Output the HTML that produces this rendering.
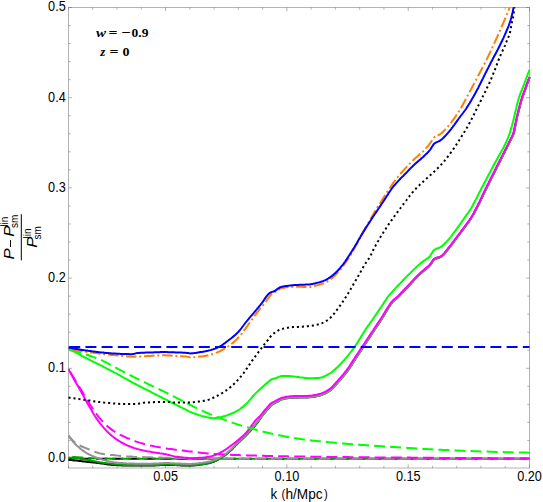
<!DOCTYPE html>
<html><head><meta charset="utf-8"><title>plot</title>
<style>html,body{margin:0;padding:0;background:#fff;}body{width:543px;height:502px;overflow:hidden;position:relative;font-family:"Liberation Sans",sans-serif;}</style></head>
<body>
<svg width="543" height="502" viewBox="0 0 543 502" style="position:absolute;left:0;top:0">
<defs><clipPath id="c"><rect x="67.8" y="7.2" width="463" height="461.3"/></clipPath></defs>
<rect width="543" height="502" fill="#fff"/>
<g stroke="#666" stroke-width="0.5" fill="none">
<path d="M68.5,7.25 V468.25"/>
<path d="M529.5,7.25 V468.25"/>
<path d="M68.25,7.5 H529.75"/>
<path d="M68.25,468 H529.75"/>
<path d="M68.5,458.50 h3.6 M529.5,458.50 h-3.6 M68.5,440.46 h2.2 M529.5,440.46 h-2.2 M68.5,422.42 h2.2 M529.5,422.42 h-2.2 M68.5,404.38 h2.2 M529.5,404.38 h-2.2 M68.5,386.34 h2.2 M529.5,386.34 h-2.2 M68.5,368.30 h3.6 M529.5,368.30 h-3.6 M68.5,350.26 h2.2 M529.5,350.26 h-2.2 M68.5,332.22 h2.2 M529.5,332.22 h-2.2 M68.5,314.18 h2.2 M529.5,314.18 h-2.2 M68.5,296.14 h2.2 M529.5,296.14 h-2.2 M68.5,278.10 h3.6 M529.5,278.10 h-3.6 M68.5,260.06 h2.2 M529.5,260.06 h-2.2 M68.5,242.02 h2.2 M529.5,242.02 h-2.2 M68.5,223.98 h2.2 M529.5,223.98 h-2.2 M68.5,205.94 h2.2 M529.5,205.94 h-2.2 M68.5,187.90 h3.6 M529.5,187.90 h-3.6 M68.5,169.86 h2.2 M529.5,169.86 h-2.2 M68.5,151.82 h2.2 M529.5,151.82 h-2.2 M68.5,133.78 h2.2 M529.5,133.78 h-2.2 M68.5,115.74 h2.2 M529.5,115.74 h-2.2 M68.5,97.70 h3.6 M529.5,97.70 h-3.6 M68.5,79.66 h2.2 M529.5,79.66 h-2.2 M68.5,61.62 h2.2 M529.5,61.62 h-2.2 M68.5,43.58 h2.2 M529.5,43.58 h-2.2 M68.5,25.54 h2.2 M529.5,25.54 h-2.2 M68.5,7.50 h3.6 M529.5,7.50 h-3.6 M68.50,468 v-2.2 M68.50,7.5 v2.2 M92.76,468 v-2.2 M92.76,7.5 v2.2 M117.03,468 v-2.2 M117.03,7.5 v2.2 M141.29,468 v-2.2 M141.29,7.5 v2.2 M165.55,468 v-3.6 M165.55,7.5 v3.6 M189.81,468 v-2.2 M189.81,7.5 v2.2 M214.08,468 v-2.2 M214.08,7.5 v2.2 M238.34,468 v-2.2 M238.34,7.5 v2.2 M262.60,468 v-2.2 M262.60,7.5 v2.2 M286.87,468 v-3.6 M286.87,7.5 v3.6 M311.13,468 v-2.2 M311.13,7.5 v2.2 M335.39,468 v-2.2 M335.39,7.5 v2.2 M359.66,468 v-2.2 M359.66,7.5 v2.2 M383.92,468 v-2.2 M383.92,7.5 v2.2 M408.18,468 v-3.6 M408.18,7.5 v3.6 M432.44,468 v-2.2 M432.44,7.5 v2.2 M456.71,468 v-2.2 M456.71,7.5 v2.2 M480.97,468 v-2.2 M480.97,7.5 v2.2 M505.23,468 v-2.2 M505.23,7.5 v2.2 M529.50,468 v-3.6 M529.50,7.5 v3.6"/>
</g>
<g clip-path="url(#c)" fill="none" stroke-linejoin="round">
<path d="M68.5,459.8 L69.9,459.9 L71.2,460.1 L72.6,460.2 L74.0,460.4 L75.4,460.5 L76.7,460.6 L78.1,460.8 L79.5,460.9 L80.8,461.1 L82.2,461.2 L83.6,461.4 L85.0,461.5 L86.3,461.7 L87.7,461.9 L89.1,462.0 L90.4,462.2 L91.8,462.3 L93.2,462.5 L94.5,462.6 L95.9,462.8 L97.3,463.0 L98.6,463.1 L100.0,463.3 L101.4,463.5 L102.7,463.6 L104.1,463.8 L105.5,464.0 L106.8,464.2 L108.2,464.4 L109.6,464.6 L111.0,464.7 L112.3,464.9 L113.7,465.0 L115.1,465.1 L116.4,465.1 L117.8,465.2 L119.2,465.3 L120.6,465.3 L122.0,465.4 L123.3,465.4 L124.7,465.5 L126.1,465.5 L127.5,465.6 L128.8,465.6 L130.2,465.6 L131.6,465.6 L133.0,465.6 L134.4,465.6 L135.7,465.6 L137.1,465.6 L138.5,465.6 L139.9,465.6 L141.3,465.6 L142.6,465.6 L144.0,465.6 L145.4,465.6 L146.8,465.6 L148.1,465.6 L149.5,465.6 L150.9,465.6 L152.3,465.5 L153.7,465.5 L155.0,465.4 L156.4,465.3 L157.8,465.2 L159.2,465.2 L160.5,465.1 L161.9,465.0 L163.3,465.0 L164.7,464.9 L166.1,464.9 L167.4,464.9 L168.8,464.9 L170.2,464.9 L171.6,465.0 L172.9,465.0 L174.3,465.1 L175.7,465.1 L177.1,465.2 L178.5,465.3 L179.8,465.3 L181.2,465.4 L182.6,465.5 L184.0,465.5 L185.3,465.6 L186.7,465.6 L188.1,465.6 L189.5,465.6 L190.9,465.6 L192.2,465.5 L193.6,465.4 L195.0,465.3 L196.4,465.2 L197.7,465.0 L199.1,464.8 L200.5,464.6 L201.8,464.5 L203.2,464.3 L204.6,464.1 L205.9,463.8 L207.3,463.5 L208.6,463.2 L210.0,462.9 L211.3,462.5 L212.6,462.1 L213.9,461.6 L215.1,461.1 L216.4,460.5 L217.6,459.9 L218.8,459.2 L220.0,458.5 L221.2,457.8 L222.4,457.0 L223.5,456.3 L224.6,455.5 L225.8,454.6 L226.8,453.8 L227.9,452.9 L229.0,452.0 L230.0,451.1 L231.0,450.2 L232.0,449.2 L233.0,448.2 L233.9,447.2 L234.9,446.2 L235.8,445.2 L236.8,444.2 L237.8,443.3 L238.8,442.3 L239.8,441.4 L240.8,440.4 L241.8,439.5 L242.8,438.5 L243.8,437.6 L244.8,436.6 L245.8,435.7 L246.7,434.7 L247.7,433.7 L248.6,432.7 L249.5,431.7 L250.5,430.7 L251.4,429.6 L252.3,428.6 L253.2,427.6 L254.1,426.5 L255.0,425.5 L255.9,424.4 L256.8,423.4 L257.7,422.3 L261.7,416.2 L262.5,415.3 L263.2,414.3 L263.9,413.4 L264.7,412.5 L265.4,411.6 L266.2,410.7 L266.9,409.9 L267.7,409.0 L268.5,408.1 L269.3,407.2 L270.0,406.3 L270.8,405.4 L271.5,404.7 L272.2,404.1 L273.1,403.6 L274.1,403.1 L275.2,402.7 L276.3,402.1 L277.4,401.5 L278.5,400.9 L279.5,400.3 L280.5,399.8 L281.4,399.3 L282.4,399.0 L283.4,398.7 L284.5,398.5 L285.6,398.3 L286.7,398.1 L287.9,397.9 L289.0,397.8 L290.2,397.7 L291.3,397.6 L292.5,397.5 L293.6,397.5 L294.8,397.4 L296.0,397.4 L297.1,397.4 L298.3,397.4 L299.5,397.3 L300.7,397.3 L301.8,397.3 L303.0,397.3 L304.2,397.3 L305.4,397.2 L306.5,397.2 L307.7,397.2 L308.9,397.1 L310.1,397.1 L311.3,397.0 L312.5,396.8 L313.8,396.6 L315.0,396.4 L316.1,396.2 L317.3,395.9 L318.5,395.6 L319.6,395.3 L320.8,395.0 L321.9,394.6 L323.1,394.1 L324.2,393.6 L325.4,393.1 L326.4,392.5 L327.5,391.9 L328.5,391.3 L329.5,390.6 L330.5,389.9 L331.4,389.1 L332.3,388.3 L333.2,387.5 L334.0,386.6 L334.9,385.7 L335.7,384.8 L336.4,383.9 L337.2,383.0 L338.0,382.1 L338.8,381.2 L339.6,380.3 L340.3,379.4 L341.1,378.6 L341.9,377.7 L342.7,376.8 L343.4,375.8 L344.2,374.9 L344.9,374.0 L345.7,373.1 L346.4,372.1 L347.1,371.2 L347.8,370.3 L348.5,369.3 L349.2,368.3 L349.9,367.3 L350.5,366.4 L351.2,365.4 L351.8,364.4 L352.4,363.4 L353.0,362.4 L353.7,361.4 L354.3,360.4 L354.9,359.4 L355.6,358.4 L356.2,357.4 L356.8,356.4 L357.5,355.5 L358.1,354.5 L358.8,353.5 L359.4,352.5 L360.1,351.5 L360.7,350.6 L361.4,349.6 L362.0,348.6 L362.6,347.6 L363.3,346.6 L363.9,345.7 L364.6,344.7 L365.2,343.7 L365.9,342.7 L366.5,341.7 L367.2,340.8 L367.8,339.8 L368.4,338.8 L369.1,337.8 L369.7,336.8 L370.4,335.8 L371.0,334.9 L371.7,333.9 L372.3,332.9 L372.9,331.9 L373.6,330.9 L374.2,330.0 L374.9,329.0 L375.5,328.0 L376.2,327.0 L376.8,326.0 L377.5,325.1 L378.1,324.1 L378.8,323.1 L379.4,322.1 L380.1,321.1 L380.7,320.2 L381.4,319.2 L382.0,318.2 L382.6,317.2 L383.3,316.2 L383.9,315.2 L384.5,314.2 L385.1,313.1 L385.7,312.1 L386.3,311.1 L386.9,310.1 L387.5,309.0 L388.1,308.0 L388.8,307.0 L389.4,306.1 L390.0,305.1 L390.7,304.2 L391.4,303.3 L392.1,302.4 L392.8,301.5 L393.6,300.7 L394.4,300.0 L395.3,299.2 L396.2,298.5 L397.1,297.7 L398.0,296.9 L398.9,296.1 L399.7,295.2 L400.5,294.4 L401.3,293.5 L402.1,292.6 L402.9,291.8 L403.7,290.9 L404.5,290.1 L405.3,289.2 L406.2,288.4 L407.0,287.6 L407.8,286.7 L408.6,285.9 L409.4,285.0 L410.2,284.2 L411.0,283.3 L411.8,282.4 L412.6,281.5 L413.4,280.6 L414.1,279.8 L415.0,278.9 L415.8,278.1 L416.6,277.3 L417.4,276.5 L418.3,275.6 L419.1,274.8 L420.0,274.0 L420.8,273.2 L421.7,272.4 L422.5,271.6 L423.4,270.8 L424.3,270.1 L425.2,269.4 L426.1,268.6 L427.0,267.9 L428.0,267.1 L428.8,266.3 L429.7,265.5 L430.4,264.5 L431.2,263.5 L431.8,262.4 L432.5,261.4 L433.2,260.5 L433.9,259.7 L434.7,259.0 L435.6,258.6 L436.6,258.2 L437.8,257.8 L439.0,257.5 L440.2,257.0 L441.2,256.5 L442.2,255.9 L443.0,255.1 L443.9,254.3 L444.7,253.4 L445.4,252.4 L446.2,251.4 L446.9,250.5 L447.6,249.5 L448.3,248.5 L449.1,247.6 L449.8,246.7 L450.6,245.8 L451.3,244.9 L452.0,243.9 L452.7,243.0 L453.4,242.1 L454.1,241.1 L454.8,240.2 L455.5,239.2 L456.2,238.3 L456.9,237.4 L457.6,236.4 L458.3,235.5 L459.1,234.5 L459.8,233.6 L460.5,232.7 L461.2,231.7 L461.9,230.8 L462.6,229.9 L463.3,228.9 L464.0,228.0 L464.7,227.0 L465.4,226.1 L466.1,225.1 L466.8,224.2 L467.5,223.2 L468.2,222.3 L468.9,221.4 L469.6,220.4 L470.2,219.4 L470.9,218.4 L471.5,217.4 L472.1,216.4 L472.7,215.4 L473.3,214.4 L473.9,213.4 L474.4,212.3 L475.0,211.3 L475.5,210.3 L476.1,209.2 L476.6,208.2 L477.2,207.1 L477.7,206.1 L478.2,205.0 L478.7,204.0 L479.3,202.9 L479.8,201.9 L480.3,200.8 L480.8,199.7 L481.3,198.7 L481.8,197.6 L482.3,196.6 L482.8,195.5 L483.3,194.4 L483.8,193.4 L484.3,192.3 L484.8,191.3 L485.3,190.2 L485.8,189.1 L486.4,188.1 L486.9,187.0 L487.4,186.0 L487.9,184.9 L488.5,183.9 L489.0,182.8 L489.5,181.8 L490.0,180.7 L490.5,179.7 L491.1,178.6 L491.6,177.6 L492.1,176.5 L492.7,175.5 L493.2,174.4 L493.7,173.4 L494.2,172.3 L494.8,171.3 L495.3,170.2 L495.8,169.2 L496.3,168.1 L496.9,167.1 L497.4,166.0 L497.9,165.0 L498.4,163.9 L499.0,162.9 L499.5,161.8 L500.0,160.8 L500.6,159.8 L501.1,158.7 L501.6,157.7 L502.1,156.6 L502.7,155.6 L503.2,154.5 L503.7,153.5 L504.3,152.4 L504.8,151.4 L505.3,150.3 L505.8,149.3 L506.4,148.2 L506.9,147.2 L507.4,146.1 L507.9,145.1 L508.5,144.0 L509.0,143.0 L509.5,141.9 L510.0,140.9 L510.6,139.8 L511.1,138.8 L511.7,137.7 L512.2,136.7 L512.7,135.6 L513.2,134.5 L513.6,133.4 L513.9,132.3 L514.2,131.1 L514.4,130.0 L514.7,128.8 L514.9,127.6 L515.1,126.5 L515.4,125.3 L515.6,124.2 L515.8,123.0 L516.1,121.9 L516.3,120.7 L516.5,119.6 L516.8,118.4 L517.0,117.3 L517.3,116.2 L517.6,115.0 L517.8,113.9 L518.1,112.7 L518.4,111.6 L518.7,110.5 L519.0,109.3 L519.3,108.2 L519.6,107.0 L519.8,105.9 L520.1,104.8 L520.4,103.6 L520.8,102.5 L521.1,101.4 L521.4,100.3 L521.8,99.2 L522.1,98.0 L522.5,96.9 L522.9,95.8 L523.3,94.7 L523.7,93.6 L524.1,92.5 L524.5,91.4 L524.9,90.3 L525.3,89.2 L525.7,88.1 L526.0,87.0 L526.4,85.9 L526.8,84.8 L527.2,83.7 L527.6,82.6 L528.0,81.5 L528.5,80.4 L528.9,79.3 L529.3,78.2 L529.8,77.1" stroke="#000" stroke-width="2"/>
<path d="M68.5,458.8 L529.5,458.8" stroke="#000" stroke-width="2" stroke-dasharray="11 5.1" stroke-dashoffset="4.6"/>
<path d="M68.5,457.6 L69.9,457.7 L71.3,457.8 L72.6,458.0 L74.0,458.1 L75.4,458.2 L76.7,458.4 L78.1,458.6 L79.5,458.7 L80.9,458.9 L82.2,459.1 L83.6,459.3 L85.0,459.5 L86.3,459.7 L87.7,459.9 L89.0,460.1 L90.4,460.3 L91.7,460.6 L93.1,460.9 L94.4,461.2 L95.8,461.5 L97.1,461.8 L98.5,462.0 L99.9,462.3 L101.2,462.5 L102.6,462.7 L103.9,462.9 L105.3,463.1 L106.7,463.3 L108.0,463.5 L109.4,463.6 L110.8,463.8 L112.2,463.9 L113.5,464.0 L114.9,464.2 L116.3,464.3 L117.7,464.4 L119.0,464.5 L120.4,464.7 L121.8,464.8 L123.2,464.9 L124.5,465.0 L125.9,465.1 L127.3,465.2 L128.7,465.2 L130.0,465.3 L131.4,465.3 L132.8,465.3 L134.2,465.3 L135.6,465.3 L136.9,465.3 L138.3,465.3 L139.7,465.3 L141.1,465.3 L142.5,465.3 L143.8,465.3 L145.2,465.3 L146.6,465.3 L148.0,465.3 L149.3,465.3 L150.7,465.3 L152.1,465.2 L153.5,465.2 L154.9,465.1 L156.2,465.0 L157.6,464.9 L159.0,464.9 L160.4,464.8 L161.8,464.7 L163.1,464.7 L164.5,464.6 L165.9,464.6 L167.3,464.6 L168.6,464.6 L170.0,464.6 L171.4,464.7 L172.8,464.7 L174.2,464.8 L175.5,464.9 L176.9,464.9 L178.3,465.0 L179.7,465.1 L181.1,465.2 L182.4,465.2 L183.8,465.3 L185.2,465.3 L186.6,465.4 L187.9,465.4 L189.3,465.4 L190.7,465.4 L192.1,465.3 L193.5,465.2 L194.8,465.1 L196.2,465.0 L197.6,464.8 L199.0,464.6 L200.3,464.5 L201.7,464.3 L203.1,464.1 L204.4,463.9 L205.8,463.7 L207.1,463.4 L208.5,463.1 L209.8,462.7 L211.2,462.3 L212.5,461.9 L213.8,461.5 L215.0,461.0 L216.3,460.4 L217.5,459.8 L218.7,459.1 L220.0,458.4 L221.1,457.7 L222.3,457.0 L223.4,456.2 L224.6,455.4 L225.7,454.6 L226.8,453.7 L227.8,452.9 L228.9,452.0 L229.9,451.1 L230.9,450.1 L231.9,449.2 L232.9,448.2 L233.8,447.2 L234.8,446.2 L235.7,445.2 L236.7,444.2 L237.7,443.2 L238.7,442.3 L239.7,441.3 L240.7,440.4 L241.7,439.4 L242.7,438.5 L243.7,437.5 L244.7,436.6 L245.7,435.6 L246.7,434.6 L247.6,433.6 L248.5,432.6 L249.5,431.6 L250.4,430.6 L251.3,429.6 L252.3,428.5 L253.2,427.5 L254.1,426.5 L255.0,425.4 L255.8,424.3 L256.7,423.3 L257.6,422.2 L261.9,416.4 L262.7,415.4 L263.4,414.5 L264.2,413.6 L264.9,412.7 L265.6,411.8 L266.4,410.9 L267.1,410.1 L267.9,409.2 L268.7,408.3 L269.5,407.4 L270.3,406.5 L271.0,405.6 L271.7,404.9 L272.4,404.4 L273.3,403.9 L274.3,403.4 L275.3,402.9 L276.4,402.4 L277.6,401.8 L278.6,401.2 L279.6,400.6 L280.6,400.0 L281.6,399.6 L282.5,399.2 L283.5,399.0 L284.5,398.8 L285.7,398.5 L286.8,398.4 L287.9,398.2 L289.1,398.0 L290.2,397.9 L291.3,397.8 L292.5,397.8 L293.6,397.8 L294.8,397.7 L296.0,397.7 L297.1,397.7 L298.3,397.6 L299.5,397.6 L300.7,397.6 L301.8,397.6 L303.0,397.5 L304.2,397.5 L305.4,397.5 L306.6,397.5 L307.7,397.4 L308.9,397.4 L310.1,397.3 L311.4,397.2 L312.6,397.1 L313.8,396.9 L315.0,396.7 L316.2,396.4 L317.4,396.1 L318.5,395.9 L319.7,395.6 L320.8,395.2 L322.0,394.8 L323.2,394.4 L324.3,393.9 L325.5,393.3 L326.6,392.7 L327.6,392.1 L328.7,391.5 L329.7,390.8 L330.6,390.1 L331.6,389.3 L332.5,388.5 L333.4,387.6 L334.2,386.8 L335.0,385.9 L335.8,384.9 L336.6,384.0 L337.4,383.1 L338.2,382.2 L339.0,381.4 L339.7,380.5 L340.5,379.6 L341.3,378.7 L342.1,377.8 L342.9,376.9 L343.6,376.0 L344.4,375.1 L345.1,374.2 L345.9,373.2 L346.6,372.3 L347.3,371.3 L348.0,370.4 L348.7,369.4 L349.4,368.5 L350.1,367.5 L350.7,366.5 L351.3,365.5 L352.0,364.5 L352.6,363.5 L353.2,362.5 L353.9,361.5 L354.5,360.5 L355.1,359.5 L355.7,358.5 L356.4,357.6 L357.0,356.6 L357.7,355.6 L358.3,354.6 L359.0,353.6 L359.6,352.7 L360.3,351.7 L360.9,350.7 L361.5,349.7 L362.2,348.7 L362.8,347.8 L363.5,346.8 L364.1,345.8 L364.8,344.8 L365.4,343.8 L366.1,342.8 L366.7,341.9 L367.3,340.9 L368.0,339.9 L368.6,338.9 L369.3,337.9 L369.9,336.9 L370.6,336.0 L371.2,335.0 L371.8,334.0 L372.5,333.0 L373.1,332.0 L373.8,331.1 L374.4,330.1 L375.1,329.1 L375.7,328.1 L376.4,327.1 L377.0,326.2 L377.7,325.2 L378.3,324.2 L378.9,323.2 L379.6,322.2 L380.2,321.3 L380.9,320.3 L381.5,319.3 L382.2,318.3 L382.8,317.3 L383.5,316.3 L384.1,315.3 L384.7,314.3 L385.3,313.3 L385.9,312.2 L386.5,311.2 L387.1,310.2 L387.7,309.2 L388.3,308.1 L388.9,307.2 L389.6,306.2 L390.2,305.2 L390.9,304.3 L391.5,303.4 L392.2,302.5 L392.9,301.7 L393.7,300.9 L394.5,300.1 L395.4,299.4 L396.3,298.6 L397.3,297.9 L398.2,297.1 L399.0,296.2 L399.9,295.4 L400.7,294.5 L401.5,293.6 L402.3,292.8 L403.1,291.9 L403.9,291.1 L404.7,290.2 L405.5,289.4 L406.3,288.5 L407.1,287.7 L407.9,286.8 L408.8,286.0 L409.6,285.1 L410.4,284.3 L411.2,283.4 L412.0,282.5 L412.7,281.6 L413.5,280.8 L414.3,279.9 L415.1,279.1 L415.9,278.2 L416.7,277.4 L417.6,276.6 L418.4,275.8 L419.2,275.0 L420.1,274.1 L420.9,273.3 L421.8,272.5 L422.7,271.8 L423.5,271.0 L424.4,270.2 L425.3,269.5 L426.2,268.8 L427.2,268.0 L428.1,267.2 L429.0,266.4 L429.8,265.6 L430.6,264.6 L431.3,263.6 L432.0,262.5 L432.7,261.5 L433.3,260.6 L434.1,259.8 L434.8,259.2 L435.7,258.7 L436.7,258.3 L437.9,258.0 L439.1,257.6 L440.2,257.2 L441.3,256.7 L442.3,256.0 L443.1,255.3 L444.0,254.4 L444.8,253.5 L445.6,252.5 L446.3,251.5 L447.0,250.6 L447.7,249.6 L448.5,248.6 L449.2,247.7 L449.9,246.8 L450.7,245.9 L451.4,245.0 L452.1,244.0 L452.8,243.1 L453.5,242.2 L454.3,241.2 L455.0,240.3 L455.7,239.3 L456.4,238.4 L457.1,237.5 L457.8,236.5 L458.5,235.6 L459.2,234.6 L459.9,233.7 L460.6,232.8 L461.3,231.8 L462.0,230.9 L462.7,230.0 L463.4,229.0 L464.1,228.1 L464.8,227.1 L465.5,226.2 L466.2,225.2 L466.9,224.3 L467.6,223.3 L468.3,222.4 L469.0,221.4 L469.7,220.5 L470.4,219.5 L471.0,218.5 L471.6,217.5 L472.2,216.5 L472.8,215.5 L473.4,214.5 L474.0,213.4 L474.6,212.4 L475.1,211.4 L475.7,210.3 L476.2,209.3 L476.8,208.2 L477.3,207.2 L477.8,206.1 L478.3,205.1 L478.9,204.0 L479.4,203.0 L479.9,201.9 L480.4,200.9 L480.9,199.8 L481.4,198.7 L481.9,197.7 L482.4,196.6 L482.9,195.6 L483.4,194.5 L483.9,193.4 L484.4,192.4 L484.9,191.3 L485.5,190.3 L486.0,189.2 L486.5,188.2 L487.0,187.1 L487.5,186.1 L488.1,185.0 L488.6,183.9 L489.1,182.9 L489.6,181.8 L490.1,180.8 L490.7,179.7 L491.2,178.7 L491.7,177.6 L492.2,176.6 L492.8,175.5 L493.3,174.5 L493.8,173.4 L494.3,172.4 L494.9,171.4 L495.4,170.3 L495.9,169.3 L496.5,168.2 L497.0,167.2 L497.5,166.1 L498.0,165.1 L498.6,164.0 L499.1,163.0 L499.6,161.9 L500.1,160.9 L500.7,159.8 L501.2,158.8 L501.7,157.7 L502.3,156.7 L502.8,155.6 L503.3,154.6 L503.8,153.5 L504.4,152.5 L504.9,151.4 L505.4,150.4 L506.0,149.3 L506.5,148.3 L507.0,147.2 L507.5,146.2 L508.1,145.1 L508.6,144.1 L509.1,143.0 L509.6,142.0 L510.1,140.9 L510.7,139.9 L511.2,138.8 L511.8,137.8 L512.3,136.7 L512.8,135.6 L513.3,134.5 L513.7,133.4 L514.0,132.3 L514.3,131.1 L514.5,130.0 L514.8,128.8 L515.0,127.7 L515.2,126.5 L515.5,125.4 L515.7,124.2 L515.9,123.1 L516.2,121.9 L516.4,120.8 L516.6,119.6 L516.9,118.5 L517.1,117.3 L517.4,116.2 L517.7,115.0 L518.0,113.9 L518.2,112.8 L518.5,111.6 L518.8,110.5 L519.1,109.4 L519.4,108.2 L519.7,107.1 L520.0,105.9 L520.2,104.8 L520.6,103.7 L520.9,102.6 L521.2,101.4 L521.5,100.3 L521.9,99.2 L522.3,98.1 L522.6,97.0 L523.0,95.9 L523.4,94.8 L523.8,93.7 L524.2,92.5 L524.6,91.4 L525.0,90.3 L525.4,89.2 L525.8,88.1 L526.2,87.0 L526.5,85.9 L526.9,84.8 L527.3,83.7 L527.7,82.6 L528.1,81.5 L528.6,80.4 L529.0,79.3 L529.4,78.2 L529.9,77.2" stroke="#00a000" stroke-width="2"/>
<path d="M68.5,456.5 L70.8,456.7 L73.1,456.9 L75.4,457.1 L77.7,457.2 L80.0,457.4 L82.4,457.6 L84.7,457.7 L87.0,457.9 L89.3,458.0 L91.6,458.2 L93.9,458.3 L96.2,458.3 L98.6,458.4 L100.9,458.5 L103.2,458.5 L105.5,458.6 L107.8,458.6 L110.1,458.7 L112.5,458.7 L114.8,458.7 L117.1,458.7 L119.4,458.7 L121.7,458.7 L124.0,458.7 L126.4,458.8 L128.7,458.8 L131.0,458.8 L133.3,458.8 L135.6,458.8 L137.9,458.8 L140.3,458.8 L142.6,458.8 L144.9,458.8 L147.2,458.8 L149.5,458.8 L151.8,458.8 L154.2,458.8 L156.5,458.8 L158.8,458.8 L161.1,458.8 L163.4,458.8 L165.7,458.8 L168.1,458.8 L170.4,458.8 L172.7,458.8 L175.0,458.8 L177.3,458.8 L179.6,458.8 L182.0,458.8 L184.3,458.8 L186.6,458.8 L188.9,458.8 L191.2,458.8 L193.5,458.8 L195.9,458.8 L198.2,458.8 L200.5,458.8 L202.8,458.8 L205.1,458.8 L207.4,458.8 L209.8,458.8 L212.1,458.8 L214.4,458.8 L216.7,458.8 L219.0,458.8 L221.4,458.8 L223.7,458.8 L226.0,458.8 L228.3,458.8 L230.6,458.8 L232.9,458.8 L235.3,458.8 L237.6,458.8 L239.9,458.8 L242.2,458.8 L244.5,458.8 L246.8,458.8 L249.2,458.8 L251.5,458.8 L253.8,458.8 L256.1,458.8 L258.4,458.8 L260.7,458.8 L263.1,458.8 L265.4,458.8 L267.7,458.8 L270.0,458.8 L272.3,458.8 L274.6,458.8 L277.0,458.8 L279.3,458.8 L281.6,458.8 L283.9,458.8 L286.2,458.8 L288.5,458.8 L290.9,458.8 L293.2,458.8 L295.5,458.8 L297.8,458.8 L300.1,458.8 L302.4,458.8 L304.8,458.8 L307.1,458.8 L309.4,458.8 L311.7,458.8 L314.0,458.8 L316.3,458.8 L318.7,458.8 L321.0,458.8 L323.3,458.8 L325.6,458.8 L327.9,458.8 L330.2,458.8 L332.6,458.8 L334.9,458.8 L337.2,458.8 L339.5,458.8 L341.8,458.8 L344.1,458.8 L346.5,458.8 L348.8,458.8 L351.1,458.8 L353.4,458.8 L355.7,458.8 L358.0,458.8 L360.4,458.8 L362.7,458.8 L365.0,458.8 L367.3,458.8 L369.6,458.8 L371.9,458.8 L374.3,458.8 L376.6,458.8 L378.9,458.8 L381.2,458.8 L383.5,458.8 L385.9,458.8 L388.2,458.8 L390.5,458.8 L392.8,458.8 L395.1,458.8 L397.4,458.8 L399.8,458.8 L402.1,458.8 L404.4,458.8 L406.7,458.8 L409.0,458.8 L411.3,458.8 L413.7,458.8 L416.0,458.8 L418.3,458.8 L420.6,458.8 L422.9,458.8 L425.2,458.8 L427.6,458.8 L429.9,458.8 L432.2,458.8 L434.5,458.8 L436.8,458.8 L439.1,458.8 L441.5,458.8 L443.8,458.8 L446.1,458.8 L448.4,458.8 L450.7,458.8 L453.0,458.8 L455.4,458.8 L457.7,458.8 L460.0,458.8 L462.3,458.8 L464.6,458.8 L466.9,458.8 L469.3,458.8 L471.6,458.8 L473.9,458.8 L476.2,458.8 L478.5,458.8 L480.8,458.8 L483.2,458.8 L485.5,458.8 L487.8,458.8 L490.1,458.8 L492.4,458.8 L494.7,458.8 L497.1,458.8 L499.4,458.8 L501.7,458.8 L504.0,458.8 L506.3,458.8 L508.6,458.8 L511.0,458.8 L513.3,458.8 L515.6,458.8 L517.9,458.8 L520.2,458.8 L522.5,458.8 L524.9,458.8 L527.2,458.8 L529.5,458.8" stroke="#00a000" stroke-width="2" stroke-dasharray="11 5.1" stroke-dashoffset="12.33"/>
<path d="M68.5,435.5 L69.3,436.7 L70.1,437.9 L71.0,439.1 L71.9,440.2 L72.8,441.3 L73.7,442.4 L74.7,443.5 L75.7,444.5 L76.7,445.4 L77.7,446.4 L78.8,447.3 L79.9,448.3 L81.0,449.2 L82.1,450.1 L83.3,450.9 L84.5,451.7 L85.7,452.5 L87.0,453.3 L88.2,454.0 L89.4,454.6 L90.7,455.2 L92.0,455.8 L93.3,456.4 L94.6,457.0 L96.0,457.5 L97.3,458.0 L98.7,458.5 L100.0,458.9 L101.4,459.3 L102.8,459.7 L104.1,460.1 L105.5,460.5 L106.9,460.9 L108.3,461.2 L109.7,461.6 L111.1,461.8 L112.5,462.1 L113.9,462.3 L115.4,462.4 L116.8,462.6 L118.2,462.7 L119.6,462.9 L121.0,463.0 L122.5,463.1 L123.9,463.2 L125.3,463.3 L126.8,463.4 L128.2,463.5 L129.6,463.5 L131.1,463.6 L132.5,463.6 L133.9,463.6 L135.3,463.7 L136.8,463.7 L138.2,463.7 L139.6,463.7 L141.1,463.8 L142.5,463.8 L143.9,463.8 L145.4,463.8 L146.8,463.8 L148.2,463.8 L149.6,463.8 L151.1,463.8 L152.5,463.7 L153.9,463.6 L155.4,463.6 L156.8,463.5 L158.2,463.4 L159.6,463.3 L161.1,463.3 L162.5,463.2 L163.9,463.1 L165.4,463.1 L166.8,463.1 L168.2,463.1 L169.6,463.1 L171.1,463.2 L172.5,463.2 L173.9,463.3 L175.4,463.4 L176.8,463.4 L178.2,463.5 L179.7,463.6 L181.1,463.7 L182.5,463.7 L183.9,463.8 L185.4,463.8 L186.8,463.9 L188.2,463.9 L189.7,463.9 L191.1,463.9 L192.5,463.8 L193.9,463.7 L195.4,463.6 L196.8,463.4 L198.2,463.3 L199.6,463.1 L201.1,462.9 L202.5,462.8 L203.9,462.6 L205.3,462.4 L206.7,462.1 L208.1,461.8 L209.5,461.5 L210.9,461.2 L212.3,460.8 L213.6,460.4 L215.0,459.9 L216.3,459.3 L217.6,458.7 L218.9,458.0 L220.2,457.3 L221.4,456.6 L222.6,455.9 L223.8,455.1 L225.0,454.3 L226.1,453.5 L227.3,452.6 L228.4,451.7 L229.5,450.7 L230.6,449.8 L231.6,448.8 L232.6,447.8 L233.6,446.8 L234.6,445.7 L235.5,444.7 L236.5,443.7 L237.6,442.7 L238.6,441.7 L239.7,440.7 L240.7,439.7 L241.8,438.7 L242.8,437.8 L243.8,436.8 L244.8,435.8 L245.9,434.8 L246.8,433.7 L247.8,432.7 L248.8,431.6 L249.7,430.6 L250.7,429.5 L251.6,428.4 L252.6,427.4 L253.5,426.3 L254.4,425.2 L255.3,424.0 L256.2,422.9 L257.1,421.8 L261.7,416.2 L262.5,415.3 L263.2,414.3 L263.9,413.4 L264.7,412.5 L265.4,411.6 L266.2,410.7 L266.9,409.9 L267.7,409.0 L268.5,408.1 L269.3,407.2 L270.0,406.3 L270.8,405.4 L271.5,404.7 L272.2,404.1 L273.1,403.6 L274.1,403.1 L275.2,402.7 L276.3,402.1 L277.4,401.5 L278.5,400.9 L279.5,400.3 L280.5,399.8 L281.4,399.3 L282.4,399.0 L283.4,398.7 L284.5,398.5 L285.6,398.3 L286.7,398.1 L287.9,397.9 L289.0,397.8 L290.2,397.7 L291.3,397.6 L292.5,397.5 L293.6,397.5 L294.8,397.4 L296.0,397.4 L297.1,397.4 L298.3,397.4 L299.5,397.3 L300.7,397.3 L301.8,397.3 L303.0,397.3 L304.2,397.3 L305.4,397.2 L306.5,397.2 L307.7,397.2 L308.9,397.1 L310.1,397.1 L311.3,397.0 L312.5,396.8 L313.8,396.6 L315.0,396.4 L316.1,396.2 L317.3,395.9 L318.5,395.6 L319.6,395.3 L320.8,395.0 L321.9,394.6 L323.1,394.1 L324.2,393.6 L325.4,393.1 L326.4,392.5 L327.5,391.9 L328.5,391.3 L329.5,390.6 L330.5,389.9 L331.4,389.1 L332.3,388.3 L333.2,387.5 L334.0,386.6 L334.9,385.7 L335.7,384.8 L336.4,383.9 L337.2,383.0 L338.0,382.1 L338.8,381.2 L339.6,380.3 L340.3,379.4 L341.1,378.6 L341.9,377.7 L342.7,376.8 L343.4,375.8 L344.2,374.9 L344.9,374.0 L345.7,373.1 L346.4,372.1 L347.1,371.2 L347.8,370.3 L348.5,369.3 L349.2,368.3 L349.9,367.3 L350.5,366.4 L351.2,365.4 L351.8,364.4 L352.4,363.4 L353.0,362.4 L353.7,361.4 L354.3,360.4 L354.9,359.4 L355.6,358.4 L356.2,357.4 L356.8,356.4 L357.5,355.5 L358.1,354.5 L358.8,353.5 L359.4,352.5 L360.1,351.5 L360.7,350.6 L361.4,349.6 L362.0,348.6 L362.6,347.6 L363.3,346.6 L363.9,345.7 L364.6,344.7 L365.2,343.7 L365.9,342.7 L366.5,341.7 L367.2,340.8 L367.8,339.8 L368.4,338.8 L369.1,337.8 L369.7,336.8 L370.4,335.8 L371.0,334.9 L371.7,333.9 L372.3,332.9 L372.9,331.9 L373.6,330.9 L374.2,330.0 L374.9,329.0 L375.5,328.0 L376.2,327.0 L376.8,326.0 L377.5,325.1 L378.1,324.1 L378.8,323.1 L379.4,322.1 L380.1,321.1 L380.7,320.2 L381.4,319.2 L382.0,318.2 L382.6,317.2 L383.3,316.2 L383.9,315.2 L384.5,314.2 L385.1,313.1 L385.7,312.1 L386.3,311.1 L386.9,310.1 L387.5,309.0 L388.1,308.0 L388.8,307.0 L389.4,306.1 L390.0,305.1 L390.7,304.2 L391.4,303.3 L392.1,302.4 L392.8,301.5 L393.6,300.7 L394.4,300.0 L395.3,299.2 L396.2,298.5 L397.1,297.7 L398.0,296.9 L398.9,296.1 L399.7,295.2 L400.5,294.4 L401.3,293.5 L402.1,292.6 L402.9,291.8 L403.7,290.9 L404.5,290.1 L405.3,289.2 L406.2,288.4 L407.0,287.6 L407.8,286.7 L408.6,285.9 L409.4,285.0 L410.2,284.2 L411.0,283.3 L411.8,282.4 L412.6,281.5 L413.4,280.6 L414.1,279.8 L415.0,278.9 L415.8,278.1 L416.6,277.3 L417.4,276.5 L418.3,275.6 L419.1,274.8 L420.0,274.0 L420.8,273.2 L421.7,272.4 L422.5,271.6 L423.4,270.8 L424.3,270.1 L425.2,269.4 L426.1,268.6 L427.0,267.9 L428.0,267.1 L428.8,266.3 L429.7,265.5 L430.4,264.5 L431.2,263.5 L431.8,262.4 L432.5,261.4 L433.2,260.5 L433.9,259.7 L434.7,259.0 L435.6,258.6 L436.6,258.2 L437.8,257.8 L439.0,257.5 L440.2,257.0 L441.2,256.5 L442.2,255.9 L443.0,255.1 L443.9,254.3 L444.7,253.4 L445.4,252.4 L446.2,251.4 L446.9,250.5 L447.6,249.5 L448.3,248.5 L449.1,247.6 L449.8,246.7 L450.6,245.8 L451.3,244.9 L452.0,243.9 L452.7,243.0 L453.4,242.1 L454.1,241.1 L454.8,240.2 L455.5,239.2 L456.2,238.3 L456.9,237.4 L457.6,236.4 L458.3,235.5 L459.1,234.5 L459.8,233.6 L460.5,232.7 L461.2,231.7 L461.9,230.8 L462.6,229.9 L463.3,228.9 L464.0,228.0 L464.7,227.0 L465.4,226.1 L466.1,225.1 L466.8,224.2 L467.5,223.2 L468.2,222.3 L468.9,221.4 L469.6,220.4 L470.2,219.4 L470.9,218.4 L471.5,217.4 L472.1,216.4 L472.7,215.4 L473.3,214.4 L473.9,213.4 L474.4,212.3 L475.0,211.3 L475.5,210.3 L476.1,209.2 L476.6,208.2 L477.2,207.1 L477.7,206.1 L478.2,205.0 L478.7,204.0 L479.3,202.9 L479.8,201.9 L480.3,200.8 L480.8,199.7 L481.3,198.7 L481.8,197.6 L482.3,196.6 L482.8,195.5 L483.3,194.4 L483.8,193.4 L484.3,192.3 L484.8,191.3 L485.3,190.2 L485.8,189.1 L486.4,188.1 L486.9,187.0 L487.4,186.0 L487.9,184.9 L488.5,183.9 L489.0,182.8 L489.5,181.8 L490.0,180.7 L490.5,179.7 L491.1,178.6 L491.6,177.6 L492.1,176.5 L492.7,175.5 L493.2,174.4 L493.7,173.4 L494.2,172.3 L494.8,171.3 L495.3,170.2 L495.8,169.2 L496.3,168.1 L496.9,167.1 L497.4,166.0 L497.9,165.0 L498.4,163.9 L499.0,162.9 L499.5,161.8 L500.0,160.8 L500.6,159.8 L501.1,158.7 L501.6,157.7 L502.1,156.6 L502.7,155.6 L503.2,154.5 L503.7,153.5 L504.3,152.4 L504.8,151.4 L505.3,150.3 L505.8,149.3 L506.4,148.2 L506.9,147.2 L507.4,146.1 L507.9,145.1 L508.5,144.0 L509.0,143.0 L509.5,141.9 L510.0,140.9 L510.6,139.8 L511.1,138.8 L511.7,137.7 L512.2,136.7 L512.7,135.6 L513.2,134.5 L513.6,133.4 L513.9,132.3 L514.2,131.1 L514.4,130.0 L514.7,128.8 L514.9,127.6 L515.1,126.5 L515.4,125.3 L515.6,124.2 L515.8,123.0 L516.1,121.9 L516.3,120.7 L516.5,119.6 L516.8,118.4 L517.0,117.3 L517.3,116.2 L517.6,115.0 L517.8,113.9 L518.1,112.7 L518.4,111.6 L518.7,110.5 L519.0,109.3 L519.3,108.2 L519.6,107.0 L519.8,105.9 L520.1,104.8 L520.4,103.6 L520.8,102.5 L521.1,101.4 L521.4,100.3 L521.8,99.2 L522.1,98.0 L522.5,96.9 L522.9,95.8 L523.3,94.7 L523.7,93.6 L524.1,92.5 L524.5,91.4 L524.9,90.3 L525.3,89.2 L525.7,88.1 L526.0,87.0 L526.4,85.9 L526.8,84.8 L527.2,83.7 L527.6,82.6 L528.0,81.5 L528.5,80.4 L528.9,79.3 L529.3,78.2 L529.8,77.1" stroke="#929292" stroke-width="2"/>
<path d="M68.5,435.5 L70.0,437.4 L71.6,439.2 L73.2,440.9 L75.0,442.4 L76.8,443.7 L78.8,444.9 L80.9,446.0 L83.0,447.0 L85.2,447.9 L87.4,448.8 L89.6,449.6 L91.8,450.5 L94.0,451.4 L96.2,452.3 L98.4,453.0 L100.7,453.6 L102.9,454.0 L105.2,454.4 L107.6,454.6 L109.9,454.9 L112.3,455.1 L114.6,455.3 L116.9,455.6 L119.3,455.8 L121.6,456.0 L123.9,456.2 L126.3,456.4 L128.6,456.5 L131.0,456.6 L133.3,456.8 L135.6,456.9 L138.0,457.0 L140.3,457.0 L142.7,457.1 L145.0,457.2 L147.4,457.3 L149.7,457.3 L152.1,457.4 L154.4,457.5 L156.7,457.5 L159.1,457.6 L161.4,457.6 L163.8,457.7 L166.1,457.7 L168.5,457.8 L170.8,457.9 L173.1,457.9 L175.5,458.0 L177.8,458.0 L180.2,458.1 L182.5,458.1 L184.9,458.2 L187.2,458.2 L189.6,458.2 L191.9,458.3 L194.2,458.3 L196.6,458.4 L198.9,458.4 L201.3,458.4 L203.6,458.4 L206.0,458.5 L208.3,458.5 L210.7,458.5 L213.0,458.6 L215.3,458.6 L217.7,458.6 L220.0,458.7 L222.4,458.7 L224.7,458.7 L227.1,458.7 L229.4,458.8 L231.8,458.8 L234.1,458.8 L236.4,458.8 L238.8,458.8 L241.1,458.8 L243.5,458.8 L245.8,458.8 L248.2,458.8 L250.5,458.8 L252.9,458.8 L255.2,458.8 L257.5,458.8 L259.9,458.8 L262.2,458.8 L264.6,458.8 L266.9,458.8 L269.3,458.8 L271.6,458.8 L274.0,458.8 L276.3,458.8 L278.6,458.8 L281.0,458.8 L283.3,458.8 L285.7,458.8 L288.0,458.8 L290.4,458.8 L292.7,458.8 L295.1,458.8 L297.4,458.8 L299.7,458.8 L302.1,458.8 L304.4,458.8 L306.8,458.8 L309.1,458.8 L311.5,458.8 L313.8,458.8 L316.2,458.8 L318.5,458.8 L320.8,458.8 L323.2,458.8 L325.5,458.8 L327.9,458.8 L330.2,458.8 L332.6,458.8 L334.9,458.8 L337.3,458.8 L339.6,458.8 L341.9,458.8 L344.3,458.8 L346.6,458.8 L349.0,458.8 L351.3,458.8 L353.7,458.8 L356.0,458.8 L358.4,458.8 L360.7,458.8 L363.0,458.8 L365.4,458.8 L367.7,458.8 L370.1,458.8 L372.4,458.8 L374.8,458.8 L377.1,458.8 L379.5,458.8 L381.8,458.8 L384.1,458.8 L386.5,458.8 L388.8,458.8 L391.2,458.8 L393.5,458.8 L395.9,458.8 L398.2,458.8 L400.6,458.8 L402.9,458.8 L405.2,458.8 L407.6,458.8 L409.9,458.8 L412.3,458.8 L414.6,458.8 L417.0,458.8 L419.3,458.8 L421.7,458.8 L424.0,458.8 L426.3,458.8 L428.7,458.8 L431.0,458.8 L433.4,458.8 L435.7,458.8 L438.1,458.8 L440.4,458.8 L442.8,458.8 L445.1,458.8 L447.4,458.8 L449.8,458.8 L452.1,458.8 L454.5,458.8 L456.8,458.8 L459.2,458.8 L461.5,458.8 L463.9,458.8 L466.2,458.8 L468.5,458.8 L470.9,458.8 L473.2,458.8 L475.6,458.8 L477.9,458.8 L480.3,458.8 L482.6,458.8 L485.0,458.8 L487.3,458.8 L489.6,458.8 L492.0,458.8 L494.3,458.8 L496.7,458.8 L499.0,458.8 L501.4,458.8 L503.7,458.8 L506.1,458.8 L508.4,458.8 L510.7,458.8 L513.1,458.8 L515.4,458.8 L517.8,458.8 L520.1,458.8 L522.5,458.8 L524.8,458.8 L527.2,458.8 L529.5,458.8" stroke="#929292" stroke-width="2" stroke-dasharray="11 5.1" stroke-dashoffset="1.14"/>
<path d="M68.5,369.1 L69.1,370.1 L69.6,371.2 L70.2,372.2 L70.7,373.2 L71.3,374.3 L71.9,375.3 L72.4,376.3 L73.0,377.4 L73.5,378.4 L74.1,379.4 L74.7,380.4 L75.3,381.5 L75.8,382.5 L76.4,383.5 L77.0,384.5 L77.6,385.5 L78.2,386.6 L78.7,387.6 L79.3,388.6 L79.9,389.6 L80.5,390.6 L81.1,391.7 L81.7,392.7 L82.2,393.7 L82.8,394.7 L83.4,395.8 L83.9,396.8 L84.5,397.8 L85.0,398.9 L85.6,399.9 L86.1,400.9 L86.7,402.0 L87.2,403.0 L87.8,404.0 L88.4,405.1 L89.0,406.1 L89.6,407.1 L90.2,408.1 L90.8,409.1 L91.4,410.1 L92.0,411.1 L92.6,412.2 L93.2,413.2 L93.8,414.2 L94.4,415.2 L95.1,416.2 L95.7,417.2 L96.3,418.2 L97.0,419.1 L97.7,420.1 L98.3,421.1 L99.0,422.0 L99.7,422.9 L100.4,423.8 L101.2,424.7 L101.9,425.6 L102.7,426.5 L103.4,427.4 L104.2,428.3 L105.0,429.2 L105.8,430.1 L106.6,430.9 L107.5,431.8 L108.3,432.6 L109.2,433.4 L110.0,434.2 L110.9,435.0 L111.8,435.8 L112.7,436.5 L113.6,437.2 L114.5,437.9 L115.5,438.6 L116.4,439.3 L117.4,439.9 L118.4,440.6 L119.4,441.2 L120.4,441.8 L121.4,442.4 L122.5,443.0 L123.5,443.5 L124.6,444.1 L125.6,444.6 L126.7,445.1 L127.7,445.6 L128.8,446.0 L129.9,446.5 L131.0,446.9 L132.1,447.3 L133.2,447.7 L134.3,448.1 L135.5,448.4 L136.6,448.8 L137.7,449.1 L138.8,449.4 L140.0,449.7 L141.1,449.9 L142.3,450.2 L143.4,450.4 L144.5,450.7 L145.7,450.9 L146.9,451.2 L148.0,451.4 L149.2,451.6 L150.3,451.8 L151.5,452.0 L152.7,452.2 L153.8,452.4 L155.0,452.6 L156.1,452.8 L157.3,453.0 L158.5,453.1 L159.6,453.3 L160.8,453.4 L162.0,453.6 L163.1,453.7 L164.3,453.9 L165.4,454.1 L166.6,454.4 L167.7,454.7 L168.8,455.0 L170.0,455.3 L171.1,455.6 L172.3,455.9 L173.4,456.2 L174.5,456.4 L175.7,456.7 L176.8,456.8 L178.0,457.0 L179.2,457.1 L180.3,457.2 L181.5,457.3 L182.7,457.4 L183.9,457.6 L185.0,457.7 L186.2,457.8 L187.4,458.0 L188.5,458.1 L189.7,458.2 L190.9,458.2 L192.0,458.2 L193.2,458.2 L194.4,458.1 L195.6,458.0 L196.7,458.0 L197.9,457.9 L199.1,457.8 L200.3,457.8 L201.4,457.7 L202.6,457.7 L203.8,457.6 L204.9,457.5 L206.1,457.3 L207.3,457.1 L208.4,456.9 L209.6,456.6 L210.7,456.4 L211.9,456.1 L213.0,455.8 L214.1,455.4 L215.2,455.0 L216.3,454.6 L217.3,454.1 L218.4,453.6 L219.5,453.1 L220.5,452.5 L221.6,451.9 L222.6,451.4 L223.6,450.8 L224.6,450.2 L225.6,449.5 L226.5,448.9 L227.5,448.2 L228.4,447.5 L229.4,446.8 L230.3,446.1 L231.3,445.4 L232.2,444.7 L233.2,444.0 L234.1,443.3 L235.1,442.6 L236.0,441.9 L236.9,441.1 L237.8,440.4 L238.7,439.6 L239.6,438.9 L240.5,438.1 L241.4,437.3 L242.3,436.6 L243.2,435.8 L244.0,434.9 L244.8,434.1 L245.7,433.3 L246.4,432.4 L247.2,431.5 L247.9,430.6 L248.6,429.7 L249.3,428.7 L250.0,427.8 L250.7,426.8 L251.4,425.8 L252.1,424.9 L252.8,424.0 L253.5,423.0 L254.2,422.1 L254.9,421.1 L255.7,420.3 L256.5,419.4 L257.3,418.6 L258.2,417.8 L259.0,417.0 L259.9,416.2 L260.6,415.3 L261.4,414.4 L262.1,413.5 L262.9,412.5 L263.6,411.6 L264.3,410.7 L265.1,409.8 L265.9,409.0 L266.7,408.1 L267.4,407.2 L268.2,406.3 L269.0,405.4 L269.8,404.5 L270.5,403.6 L271.5,403.0 L272.5,402.4 L273.6,401.9 L274.6,401.4 L275.7,400.9 L276.7,400.3 L277.8,399.7 L278.8,399.1 L279.9,398.6 L280.9,398.1 L282.0,397.7 L283.1,397.4 L284.2,397.2 L285.4,396.9 L286.5,396.7 L287.7,396.6 L288.9,396.4 L290.1,396.3 L291.2,396.2 L292.4,396.2 L293.6,396.1 L294.8,396.1 L295.9,396.1 L297.1,396.1 L298.3,396.0 L299.5,396.0 L300.6,396.0 L301.8,396.0 L303.0,395.9 L304.2,395.9 L305.3,395.9 L306.5,395.9 L307.7,395.9 L308.9,395.8 L310.0,395.8 L311.2,395.7 L312.4,395.5 L313.5,395.3 L314.7,395.1 L315.9,394.9 L317.0,394.6 L318.2,394.3 L319.3,394.1 L320.4,393.7 L321.5,393.4 L322.6,392.9 L323.7,392.5 L324.8,392.0 L325.9,391.4 L326.9,390.8 L327.9,390.2 L328.8,389.6 L329.8,388.9 L330.6,388.2 L331.5,387.5 L332.4,386.6 L333.2,385.8 L334.0,384.9 L334.8,384.0 L335.6,383.1 L336.4,382.2 L337.2,381.3 L337.9,380.4 L338.7,379.6 L339.5,378.7 L340.3,377.8 L341.1,376.9 L341.8,376.1 L342.6,375.2 L343.4,374.3 L344.1,373.3 L344.8,372.4 L345.6,371.5 L346.3,370.6 L347.0,369.6 L347.7,368.7 L348.4,367.7 L349.0,366.8 L349.7,365.8 L350.3,364.8 L351.0,363.8 L351.6,362.8 L352.2,361.8 L352.8,360.9 L353.5,359.9 L354.1,358.9 L354.7,357.9 L355.4,356.9 L356.0,355.9 L356.7,354.9 L357.3,354.0 L358.0,353.0 L358.6,352.0 L359.3,351.0 L359.9,350.1 L360.6,349.1 L361.2,348.1 L361.9,347.1 L362.5,346.1 L363.2,345.2 L363.8,344.2 L364.5,343.2 L365.1,342.2 L365.8,341.3 L366.4,340.3 L367.1,339.3 L367.7,338.3 L368.4,337.3 L369.0,336.4 L369.7,335.4 L370.3,334.4 L371.0,333.4 L371.6,332.4 L372.3,331.5 L372.9,330.5 L373.6,329.5 L374.2,328.5 L374.9,327.6 L375.5,326.6 L376.2,325.6 L376.8,324.6 L377.5,323.7 L378.1,322.7 L378.8,321.7 L379.4,320.7 L380.1,319.7 L380.7,318.8 L381.4,317.8 L382.0,316.8 L382.7,315.8 L383.3,314.8 L383.9,313.8 L384.5,312.8 L385.1,311.8 L385.7,310.7 L386.3,309.7 L386.9,308.7 L387.5,307.7 L388.2,306.7 L388.8,305.7 L389.5,304.7 L390.1,303.8 L390.8,302.9 L391.6,302.0 L392.3,301.1 L393.1,300.3 L394.0,299.5 L394.9,298.7 L395.8,298.0 L396.7,297.2 L397.6,296.5 L398.5,295.7 L399.3,294.8 L400.1,294.0 L400.9,293.1 L401.7,292.2 L402.5,291.4 L403.3,290.5 L404.1,289.7 L404.9,288.8 L405.7,288.0 L406.6,287.2 L407.4,286.3 L408.2,285.5 L409.0,284.6 L409.8,283.8 L410.6,282.9 L411.4,282.0 L412.2,281.1 L413.0,280.3 L413.8,279.4 L414.6,278.6 L415.4,277.7 L416.2,276.9 L417.1,276.1 L417.9,275.3 L418.8,274.5 L419.6,273.6 L420.5,272.8 L421.3,272.0 L422.2,271.3 L423.1,270.5 L424.0,269.7 L424.9,269.0 L425.8,268.3 L426.7,267.5 L427.6,266.8 L428.5,266.0 L429.3,265.2 L430.1,264.2 L430.8,263.2 L431.5,262.2 L432.2,261.2 L432.9,260.2 L433.6,259.4 L434.5,258.7 L435.4,258.2 L436.5,257.8 L437.7,257.4 L438.9,257.1 L440.0,256.7 L441.0,256.2 L441.9,255.6 L442.8,254.9 L443.6,254.0 L444.4,253.1 L445.1,252.2 L445.9,251.2 L446.6,250.2 L447.3,249.3 L448.1,248.3 L448.8,247.4 L449.5,246.5 L450.3,245.6 L451.0,244.7 L451.7,243.7 L452.4,242.8 L453.1,241.9 L453.8,240.9 L454.5,240.0 L455.3,239.0 L456.0,238.1 L456.7,237.2 L457.4,236.2 L458.1,235.3 L458.8,234.3 L459.5,233.4 L460.2,232.5 L460.9,231.5 L461.6,230.6 L462.3,229.7 L463.0,228.7 L463.7,227.8 L464.4,226.8 L465.1,225.9 L465.8,224.9 L466.5,224.0 L467.2,223.0 L467.9,222.1 L468.6,221.2 L469.3,220.2 L470.0,219.2 L470.6,218.3 L471.2,217.3 L471.8,216.3 L472.4,215.3 L473.0,214.2 L473.6,213.2 L474.1,212.2 L474.7,211.1 L475.2,210.1 L475.8,209.1 L476.3,208.0 L476.9,207.0 L477.4,205.9 L477.9,204.9 L478.4,203.8 L479.0,202.8 L479.5,201.7 L480.0,200.7 L480.5,199.6 L481.0,198.5 L481.5,197.5 L482.0,196.4 L482.5,195.3 L483.0,194.3 L483.5,193.2 L484.0,192.2 L484.5,191.1 L485.0,190.1 L485.5,189.0 L486.1,187.9 L486.6,186.9 L487.1,185.8 L487.6,184.8 L488.2,183.7 L488.7,182.7 L489.2,181.6 L489.7,180.6 L490.3,179.5 L490.8,178.5 L491.3,177.4 L491.8,176.4 L492.4,175.3 L492.9,174.3 L493.4,173.2 L493.9,172.2 L494.5,171.1 L495.0,170.1 L495.5,169.0 L496.0,168.0 L496.6,166.9 L497.1,165.9 L497.6,164.9 L498.2,163.8 L498.7,162.8 L499.2,161.7 L499.7,160.7 L500.3,159.6 L500.8,158.6 L501.3,157.5 L501.9,156.5 L502.4,155.4 L502.9,154.4 L503.4,153.3 L504.0,152.3 L504.5,151.2 L505.0,150.2 L505.6,149.1 L506.1,148.1 L506.6,147.0 L507.1,146.0 L507.7,144.9 L508.2,143.9 L508.7,142.8 L509.2,141.8 L509.7,140.7 L510.3,139.7 L510.8,138.6 L511.4,137.6 L511.9,136.5 L512.4,135.5 L512.9,134.4 L513.3,133.3 L513.6,132.2 L513.9,131.1 L514.1,129.9 L514.3,128.7 L514.6,127.6 L514.8,126.4 L515.0,125.3 L515.3,124.1 L515.5,123.0 L515.8,121.8 L516.0,120.7 L516.2,119.5 L516.5,118.4 L516.7,117.2 L517.0,116.1 L517.3,114.9 L517.5,113.8 L517.8,112.7 L518.1,111.5 L518.4,110.4 L518.7,109.3 L519.0,108.1 L519.3,107.0 L519.5,105.8 L519.8,104.7 L520.1,103.6 L520.5,102.4 L520.8,101.3 L521.1,100.2 L521.5,99.1 L521.9,97.9 L522.2,96.8 L522.6,95.7 L523.0,94.6 L523.4,93.5 L523.8,92.4 L524.2,91.3 L524.6,90.2 L525.0,89.1 L525.4,88.0 L525.8,86.9 L526.1,85.8 L526.5,84.7 L526.9,83.6 L527.3,82.5 L527.7,81.4 L528.2,80.3 L528.6,79.2 L529.0,78.1 L529.5,77.0" stroke="#ff00ff" stroke-width="2"/>
<path d="M68.5,369.1 L69.4,370.5 L70.2,371.9 L71.1,373.4 L71.9,374.8 L72.8,376.2 L73.6,377.6 L74.5,379.1 L75.4,380.5 L76.2,381.9 L77.1,383.3 L78.0,384.7 L78.8,386.1 L79.7,387.6 L80.6,389.0 L81.4,390.4 L82.3,391.8 L83.2,393.2 L84.0,394.7 L84.9,396.1 L85.7,397.5 L86.6,398.9 L87.4,400.4 L88.3,401.8 L89.2,403.2 L90.1,404.6 L91.0,406.0 L91.9,407.3 L92.8,408.7 L93.8,410.1 L94.7,411.5 L95.7,412.9 L96.6,414.2 L97.6,415.6 L98.6,416.9 L99.7,418.2 L100.7,419.4 L101.8,420.6 L103.0,421.8 L104.1,423.0 L105.3,424.2 L106.6,425.3 L107.8,426.5 L109.1,427.6 L110.4,428.6 L111.7,429.6 L113.0,430.6 L114.4,431.5 L115.8,432.4 L117.2,433.2 L118.7,434.0 L120.2,434.8 L121.7,435.5 L123.2,436.2 L124.7,436.9 L126.2,437.6 L127.7,438.3 L129.3,438.9 L130.8,439.6 L132.3,440.2 L133.9,440.8 L135.5,441.4 L137.0,441.9 L138.6,442.4 L140.2,442.9 L141.8,443.3 L143.4,443.7 L145.0,444.2 L146.6,444.6 L148.2,444.9 L149.8,445.3 L151.5,445.7 L153.1,446.0 L154.7,446.4 L156.4,446.7 L158.0,447.0 L159.6,447.3 L161.3,447.6 L162.9,447.9 L164.5,448.1 L166.2,448.4 L167.8,448.7 L169.5,448.9 L171.1,449.1 L172.7,449.3 L174.4,449.6 L176.0,449.8 L177.7,450.0 L179.3,450.2 L181.0,450.4 L182.6,450.6 L184.3,450.8 L185.9,451.0 L187.6,451.2 L189.2,451.4 L190.9,451.6 L192.5,451.8 L194.2,452.0 L195.8,452.2 L197.5,452.4 L199.1,452.6 L200.8,452.8 L202.4,452.9 L204.1,453.1 L205.7,453.2 L207.4,453.4 L209.1,453.5 L210.7,453.6 L212.4,453.8 L214.0,453.9 L215.7,454.0 L217.3,454.1 L219.0,454.2 L220.7,454.3 L222.3,454.4 L224.0,454.5 L225.6,454.6 L227.3,454.7 L228.9,454.8 L230.6,454.8 L232.3,454.9 L233.9,454.9 L235.6,455.0 L237.2,455.1 L238.9,455.1 L240.6,455.2 L242.2,455.2 L243.9,455.3 L245.5,455.3 L247.2,455.4 L248.9,455.4 L250.5,455.5 L252.2,455.5 L253.8,455.6 L255.5,455.6 L257.2,455.7 L258.8,455.7 L260.5,455.8 L262.1,455.8 L263.8,455.8 L265.5,455.9 L267.1,455.9 L268.8,456.0 L270.4,456.0 L272.1,456.0 L273.8,456.1 L275.4,456.1 L277.1,456.1 L278.7,456.2 L280.4,456.2 L282.1,456.2 L283.7,456.3 L285.4,456.3 L287.0,456.3 L288.7,456.4 L290.4,456.4 L292.0,456.4 L293.7,456.4 L295.4,456.5 L297.0,456.5 L298.7,456.5 L300.3,456.5 L302.0,456.6 L303.7,456.6 L305.3,456.6 L307.0,456.6 L308.6,456.7 L310.3,456.7 L312.0,456.7 L313.6,456.7 L315.3,456.8 L316.9,456.8 L318.6,456.8 L320.3,456.8 L321.9,456.8 L323.6,456.9 L325.2,456.9 L326.9,456.9 L328.6,456.9 L330.2,456.9 L331.9,457.0 L333.5,457.0 L335.2,457.0 L336.9,457.0 L338.5,457.0 L340.2,457.1 L341.8,457.1 L343.5,457.1 L345.2,457.1 L346.8,457.1 L348.5,457.1 L350.1,457.2 L351.8,457.2 L353.5,457.2 L355.1,457.2 L356.8,457.2 L358.5,457.2 L360.1,457.3 L361.8,457.3 L363.4,457.3 L365.1,457.3 L366.8,457.3 L368.4,457.3 L370.1,457.3 L371.7,457.4 L373.4,457.4 L375.1,457.4 L376.7,457.4 L378.4,457.4 L380.0,457.4 L381.7,457.4 L383.4,457.4 L385.0,457.5 L386.7,457.5 L388.3,457.5 L390.0,457.5 L391.7,457.5 L393.3,457.5 L395.0,457.5 L396.6,457.6 L398.3,457.6 L400.0,457.6 L401.6,457.6 L403.3,457.6 L405.0,457.6 L406.6,457.6 L408.3,457.6 L409.9,457.6 L411.6,457.7 L413.3,457.7 L414.9,457.7 L416.6,457.7 L418.2,457.7 L419.9,457.7 L421.6,457.7 L423.2,457.7 L424.9,457.8 L426.5,457.8 L428.2,457.8 L429.9,457.8 L431.5,457.8 L433.2,457.8 L434.8,457.8 L436.5,457.8 L438.2,457.8 L439.8,457.9 L441.5,457.9 L443.1,457.9 L444.8,457.9 L446.5,457.9 L448.1,457.9 L449.8,457.9 L451.4,457.9 L453.1,457.9 L454.8,458.0 L456.4,458.0 L458.1,458.0 L459.8,458.0 L461.4,458.0 L463.1,458.0 L464.7,458.0 L466.4,458.0 L468.1,458.0 L469.7,458.0 L471.4,458.0 L473.0,458.1 L474.7,458.1 L476.4,458.1 L478.0,458.1 L479.7,458.1 L481.3,458.1 L483.0,458.1 L484.7,458.1 L486.3,458.1 L488.0,458.1 L489.6,458.1 L491.3,458.2 L493.0,458.2 L494.6,458.2 L496.3,458.2 L497.9,458.2 L499.6,458.2 L501.3,458.2 L502.9,458.2 L504.6,458.2 L506.3,458.2 L507.9,458.2 L509.6,458.2 L511.2,458.2 L512.9,458.2 L514.6,458.3 L516.2,458.3 L517.9,458.3 L519.5,458.3 L521.2,458.3 L522.9,458.3 L524.5,458.3 L526.2,458.3 L527.8,458.3 L529.5,458.3" stroke="#ff00ff" stroke-width="2" stroke-dasharray="11 5.1" stroke-dashoffset="12.27"/>
<path d="M68.5,349.4 L69.8,349.8 L71.0,350.3 L72.2,350.8 L73.5,351.3 L74.7,351.8 L75.9,352.4 L77.0,353.1 L78.2,353.7 L79.3,354.4 L80.5,355.1 L81.6,355.8 L82.8,356.4 L83.9,357.0 L85.1,357.6 L86.3,358.2 L87.5,358.8 L88.7,359.4 L89.9,360.0 L91.1,360.6 L92.3,361.2 L93.5,361.8 L94.7,362.3 L95.8,362.9 L97.0,363.5 L98.2,364.1 L99.4,364.7 L100.6,365.3 L101.8,365.9 L103.0,366.5 L104.1,367.1 L105.3,367.7 L106.5,368.3 L107.7,369.0 L108.8,369.6 L110.0,370.2 L111.2,370.8 L112.4,371.4 L113.5,372.1 L114.7,372.7 L115.9,373.3 L117.1,373.9 L118.2,374.6 L119.4,375.2 L120.6,375.8 L121.7,376.5 L122.9,377.1 L124.0,377.8 L125.2,378.4 L126.4,379.1 L127.5,379.7 L128.7,380.4 L129.8,381.0 L131.0,381.7 L132.2,382.3 L133.3,383.0 L134.5,383.6 L135.7,384.2 L136.8,384.8 L138.0,385.4 L139.2,386.0 L140.4,386.6 L141.6,387.2 L142.8,387.8 L143.9,388.4 L145.1,389.0 L146.3,389.6 L147.5,390.2 L148.7,390.8 L149.9,391.4 L151.0,392.0 L152.2,392.7 L153.4,393.3 L154.6,393.9 L155.8,394.5 L156.9,395.1 L158.1,395.7 L159.3,396.3 L160.5,396.9 L161.7,397.5 L162.8,398.1 L164.0,398.7 L165.2,399.3 L166.4,399.9 L167.6,400.5 L168.8,401.1 L170.0,401.7 L171.2,402.3 L172.3,402.9 L173.5,403.5 L174.7,404.1 L175.9,404.7 L177.1,405.3 L178.3,405.8 L179.5,406.4 L180.7,407.1 L181.8,407.7 L183.0,408.3 L184.2,408.9 L185.4,409.5 L186.6,410.2 L187.8,410.7 L189.0,411.3 L190.2,411.8 L191.4,412.3 L192.6,412.8 L193.8,413.3 L195.1,413.7 L196.4,414.2 L197.6,414.6 L198.9,415.1 L200.2,415.5 L201.4,415.9 L202.7,416.2 L204.0,416.5 L205.3,416.8 L206.6,417.1 L207.9,417.4 L209.2,417.7 L210.5,417.9 L211.8,418.1 L213.1,418.2 L214.4,418.2 L215.8,418.0 L217.1,417.8 L218.4,417.5 L219.7,417.2 L221.0,417.0 L222.3,416.7 L223.6,416.3 L224.9,416.0 L226.1,415.6 L227.4,415.1 L228.7,414.7 L229.9,414.2 L231.1,413.8 L232.3,413.2 L233.6,412.7 L234.8,412.1 L236.0,411.5 L237.1,410.8 L238.3,410.2 L239.4,409.5 L240.5,408.7 L241.5,407.9 L242.5,407.1 L243.6,406.2 L244.6,405.3 L245.5,404.4 L246.5,403.5 L247.4,402.6 L248.4,401.6 L249.3,400.6 L250.1,399.6 L251.0,398.6 L251.8,397.6 L252.7,396.5 L253.6,395.5 L254.4,394.6 L255.4,393.6 L256.3,392.7 L257.3,391.8 L258.2,390.8 L259.2,389.9 L260.2,389.0 L261.2,388.1 L262.2,387.3 L263.1,386.4 L264.1,385.5 L265.1,384.6 L266.1,383.7 L267.1,382.9 L268.2,382.0 L269.2,381.2 L270.2,380.3 L271.3,379.5 L272.5,378.9 L273.7,378.6 L275.1,378.4 L276.3,378.0 L277.6,377.5 L278.8,376.9 L280.1,376.4 L281.4,376.0 L282.6,375.9 L283.9,375.9 L285.3,375.9 L286.6,376.0 L287.9,376.1 L289.3,376.1 L290.6,376.2 L291.9,376.3 L293.2,376.4 L294.6,376.6 L295.9,376.7 L297.2,376.9 L298.5,377.1 L299.8,377.3 L301.1,377.4 L302.5,377.6 L303.8,377.8 L305.1,378.0 L306.4,378.1 L307.7,378.3 L309.1,378.3 L310.4,378.3 L311.7,378.3 L313.1,378.2 L314.4,378.2 L315.8,378.1 L317.1,378.0 L318.4,377.9 L319.7,377.8 L321.0,377.6 L322.2,377.2 L323.5,376.7 L324.7,376.2 L326.0,375.6 L327.2,374.9 L328.3,374.3 L329.4,373.7 L330.5,373.0 L331.6,372.2 L332.7,371.4 L333.7,370.5 L334.7,369.6 L335.7,368.7 L336.7,367.8 L337.7,366.9 L338.6,366.0 L339.6,365.1 L340.5,364.1 L341.4,363.1 L342.3,362.2 L343.2,361.2 L344.1,360.2 L345.0,359.2 L345.8,358.1 L346.7,357.1 L347.5,356.1 L348.4,355.1 L349.2,354.0 L350.0,353.0 L350.8,352.0 L351.7,350.9 L352.5,349.8 L353.2,348.8 L354.0,347.7 L354.8,346.6 L355.5,345.5 L356.3,344.4 L357.0,343.3 L357.7,342.2 L358.4,341.1 L359.1,339.9 L359.8,338.8 L360.5,337.7 L361.2,336.5 L361.9,335.4 L362.6,334.3 L363.3,333.1 L364.0,332.0 L364.7,330.9 L365.4,329.8 L366.1,328.6 L366.9,327.6 L367.6,326.5 L368.4,325.4 L369.2,324.3 L369.9,323.2 L370.7,322.1 L371.5,321.0 L372.3,320.0 L373.0,318.9 L373.8,317.8 L374.5,316.7 L375.3,315.6 L376.0,314.5 L376.8,313.4 L377.5,312.3 L378.3,311.2 L379.0,310.1 L379.8,309.0 L380.5,307.9 L381.3,306.8 L382.0,305.7 L382.8,304.6 L383.5,303.5 L384.2,302.4 L384.9,301.3 L385.6,300.2 L386.4,299.0 L387.1,297.9 L387.9,296.9 L388.7,295.8 L389.5,294.8 L390.4,293.8 L391.3,292.8 L392.2,291.8 L393.1,290.8 L394.0,289.8 L394.9,288.9 L395.8,287.9 L396.7,286.9 L397.6,286.0 L398.5,285.0 L399.5,284.1 L400.4,283.1 L401.3,282.1 L402.2,281.2 L403.1,280.2 L404.0,279.3 L405.0,278.3 L405.9,277.3 L406.8,276.4 L407.7,275.4 L408.7,274.5 L409.6,273.6 L410.6,272.6 L411.5,271.7 L412.5,270.8 L413.4,269.9 L414.4,268.9 L415.4,268.0 L416.3,267.1 L417.3,266.2 L418.3,265.3 L419.3,264.5 L420.3,263.6 L421.3,262.7 L422.3,261.9 L423.4,261.1 L424.5,260.4 L425.7,259.6 L426.8,258.9 L427.9,258.1 L428.9,257.3 L429.8,256.4 L430.6,255.3 L431.3,254.1 L432.0,252.9 L432.7,251.7 L433.5,250.7 L434.4,249.8 L435.5,249.2 L436.7,248.7 L438.0,248.2 L439.3,247.7 L440.4,247.1 L441.5,246.4 L442.5,245.6 L443.5,244.7 L444.5,243.8 L445.5,242.8 L446.4,241.8 L447.3,240.8 L448.2,239.8 L449.1,238.8 L449.9,237.8 L450.8,236.8 L451.6,235.8 L452.4,234.7 L453.2,233.7 L454.0,232.6 L454.8,231.5 L455.6,230.4 L456.3,229.3 L457.1,228.3 L457.9,227.2 L458.7,226.1 L459.5,225.0 L460.2,224.0 L461.0,222.9 L461.7,221.8 L462.5,220.7 L463.3,219.6 L464.0,218.5 L464.8,217.4 L465.6,216.3 L466.3,215.3 L467.1,214.2 L467.9,213.1 L468.7,212.0 L469.4,210.9 L470.1,209.8 L470.8,208.7 L471.5,207.5 L472.1,206.4 L472.8,205.2 L473.4,204.1 L474.0,202.9 L474.7,201.7 L475.3,200.5 L475.9,199.4 L476.5,198.2 L477.1,197.0 L477.7,195.8 L478.3,194.6 L478.9,193.4 L479.5,192.2 L480.1,191.0 L480.7,189.9 L481.3,188.7 L481.9,187.5 L482.6,186.3 L483.2,185.2 L483.8,184.0 L484.4,182.8 L485.0,181.6 L485.7,180.5 L486.3,179.3 L486.9,178.1 L487.5,176.9 L488.1,175.8 L488.8,174.6 L489.4,173.4 L490.0,172.3 L490.6,171.1 L491.2,169.9 L491.9,168.7 L492.5,167.6 L493.1,166.4 L493.7,165.2 L494.3,164.0 L495.0,162.9 L495.6,161.7 L496.3,160.5 L496.9,159.4 L497.6,158.2 L498.2,157.0 L498.9,155.9 L499.5,154.7 L500.2,153.6 L500.8,152.4 L501.5,151.2 L502.1,150.1 L502.7,148.9 L503.4,147.7 L504.0,146.6 L504.6,145.4 L505.2,144.2 L505.7,143.0 L506.3,141.8 L506.8,140.6 L507.4,139.4 L507.9,138.2 L508.4,136.9 L508.8,135.7 L509.3,134.4 L509.7,133.2 L510.1,131.9 L510.5,130.6 L510.9,129.4 L511.3,128.1 L511.6,126.8 L512.0,125.5 L512.3,124.2 L512.7,123.0 L513.0,121.7 L513.3,120.4 L513.7,119.1 L514.0,117.8 L514.3,116.5 L514.6,115.2 L514.9,113.9 L515.2,112.6 L515.5,111.3 L515.8,110.0 L516.1,108.8 L516.4,107.5 L516.6,106.2 L516.9,104.9 L517.2,103.6 L517.6,102.3 L517.9,101.0 L518.3,99.7 L518.7,98.5 L519.1,97.2 L519.5,95.9 L519.9,94.7 L520.4,93.4 L520.9,92.2 L521.4,91.0 L521.9,89.7 L522.4,88.5 L522.9,87.3 L523.3,86.0 L523.8,84.8 L524.3,83.5 L524.7,82.3 L525.2,81.0 L525.6,79.8 L526.1,78.6 L526.6,77.3 L527.1,76.1 L527.5,74.8 L528.0,73.6 L528.5,72.4 L529.0,71.1 L529.5,69.9" stroke="#00ff00" stroke-width="2"/>
<path d="M68.5,349.4 L70.1,349.8 L71.6,350.2 L73.2,350.6 L74.7,351.0 L76.3,351.5 L77.8,351.9 L79.3,352.4 L80.9,352.8 L82.4,353.3 L83.9,353.8 L85.5,354.3 L87.0,354.8 L88.5,355.3 L90.0,355.8 L91.5,356.3 L93.1,356.9 L94.6,357.4 L96.1,358.0 L97.6,358.6 L99.0,359.2 L100.5,359.8 L102.0,360.4 L103.4,361.1 L104.9,361.8 L106.3,362.5 L107.7,363.3 L109.1,364.0 L110.5,364.8 L112.0,365.6 L113.4,366.3 L114.8,367.1 L116.2,367.9 L117.6,368.7 L119.0,369.4 L120.4,370.1 L121.9,370.9 L123.3,371.6 L124.7,372.4 L126.1,373.1 L127.6,373.8 L129.0,374.6 L130.4,375.3 L131.8,376.0 L133.3,376.8 L134.7,377.5 L136.1,378.2 L137.6,378.9 L139.0,379.6 L140.4,380.3 L141.9,381.0 L143.3,381.7 L144.8,382.4 L146.2,383.1 L147.7,383.8 L149.1,384.5 L150.6,385.2 L152.0,385.9 L153.5,386.6 L154.9,387.2 L156.4,387.9 L157.8,388.6 L159.3,389.3 L160.7,390.0 L162.2,390.7 L163.6,391.4 L165.0,392.1 L166.5,392.8 L167.9,393.5 L169.3,394.2 L170.8,395.0 L172.2,395.7 L173.6,396.4 L175.1,397.1 L176.5,397.8 L177.9,398.6 L179.4,399.3 L180.8,400.0 L182.2,400.8 L183.6,401.5 L185.1,402.2 L186.5,403.0 L187.9,403.7 L189.3,404.5 L190.8,405.2 L192.2,405.9 L193.6,406.7 L195.1,407.4 L196.5,408.1 L197.9,408.7 L199.4,409.4 L200.9,410.1 L202.3,410.8 L203.8,411.5 L205.2,412.1 L206.7,412.8 L208.2,413.4 L209.6,414.1 L211.1,414.7 L212.6,415.3 L214.1,415.9 L215.5,416.5 L217.0,417.1 L218.5,417.7 L220.0,418.3 L221.5,418.8 L223.0,419.4 L224.5,419.9 L226.1,420.5 L227.6,421.0 L229.1,421.5 L230.6,422.1 L232.1,422.6 L233.6,423.1 L235.2,423.6 L236.7,424.1 L238.2,424.6 L239.7,425.1 L241.3,425.6 L242.8,426.0 L244.3,426.5 L245.9,427.0 L247.4,427.4 L249.0,427.8 L250.5,428.3 L252.1,428.7 L253.6,429.1 L255.1,429.5 L256.7,430.0 L258.2,430.4 L259.8,430.8 L261.4,431.2 L262.9,431.6 L264.5,432.0 L266.0,432.3 L267.6,432.7 L269.1,433.1 L270.7,433.4 L272.3,433.8 L273.8,434.1 L275.4,434.5 L277.0,434.8 L278.5,435.1 L280.1,435.4 L281.7,435.7 L283.3,436.1 L284.8,436.4 L286.4,436.7 L288.0,437.0 L289.6,437.3 L291.2,437.5 L292.7,437.8 L294.3,438.1 L295.9,438.3 L297.5,438.6 L299.1,438.8 L300.7,439.1 L302.2,439.3 L303.8,439.5 L305.4,439.7 L307.0,439.9 L308.6,440.1 L310.2,440.3 L311.8,440.5 L313.4,440.7 L315.0,440.8 L316.6,441.0 L318.2,441.2 L319.8,441.3 L321.4,441.5 L323.0,441.7 L324.5,441.8 L326.1,442.0 L327.7,442.1 L329.3,442.3 L330.9,442.4 L332.5,442.5 L334.1,442.7 L335.7,442.8 L337.3,443.0 L338.9,443.1 L340.5,443.3 L342.1,443.4 L343.7,443.5 L345.3,443.7 L346.9,443.8 L348.5,443.9 L350.1,444.1 L351.7,444.2 L353.3,444.3 L354.9,444.4 L356.5,444.5 L358.1,444.7 L359.7,444.8 L361.3,444.9 L362.9,445.0 L364.5,445.1 L366.1,445.2 L367.7,445.4 L369.3,445.5 L370.9,445.6 L372.5,445.7 L374.1,445.8 L375.7,445.9 L377.3,446.0 L378.9,446.1 L380.5,446.2 L382.1,446.3 L383.7,446.4 L385.3,446.5 L386.9,446.6 L388.5,446.7 L390.1,446.8 L391.7,446.9 L393.3,447.0 L394.9,447.1 L396.5,447.2 L398.1,447.3 L399.7,447.4 L401.3,447.5 L402.9,447.6 L404.5,447.7 L406.1,447.8 L407.7,447.9 L409.3,448.0 L410.9,448.1 L412.5,448.2 L414.1,448.3 L415.7,448.4 L417.3,448.5 L418.9,448.6 L420.5,448.7 L422.1,448.8 L423.7,448.9 L425.3,449.0 L426.9,449.1 L428.5,449.2 L430.1,449.3 L431.7,449.3 L433.3,449.4 L434.9,449.5 L436.5,449.6 L438.1,449.7 L439.7,449.7 L441.3,449.8 L442.9,449.9 L444.5,450.0 L446.1,450.0 L447.8,450.1 L449.4,450.2 L451.0,450.3 L452.6,450.3 L454.2,450.4 L455.8,450.5 L457.4,450.5 L459.0,450.6 L460.6,450.7 L462.2,450.7 L463.8,450.8 L465.4,450.9 L467.0,450.9 L468.6,451.0 L470.2,451.1 L471.8,451.1 L473.4,451.2 L475.0,451.2 L476.6,451.3 L478.2,451.3 L479.8,451.4 L481.4,451.4 L483.0,451.5 L484.6,451.5 L486.2,451.6 L487.8,451.6 L489.4,451.7 L491.0,451.7 L492.6,451.8 L494.2,451.8 L495.8,451.9 L497.4,451.9 L499.0,452.0 L500.6,452.0 L502.2,452.1 L503.8,452.1 L505.4,452.2 L507.1,452.2 L508.7,452.2 L510.3,452.3 L511.9,452.3 L513.5,452.4 L515.1,452.4 L516.7,452.4 L518.3,452.5 L519.9,452.5 L521.5,452.5 L523.1,452.6 L524.7,452.6 L526.3,452.6 L527.9,452.7 L529.5,452.7" stroke="#00ff00" stroke-width="2" stroke-dasharray="11 5.1" stroke-dashoffset="14.05"/>
<path d="M68.5,397.6 L69.8,397.8 L71.1,398.0 L72.5,398.1 L73.8,398.3 L75.1,398.5 L76.4,398.7 L77.7,398.9 L79.1,399.1 L80.4,399.2 L81.7,399.4 L83.0,399.6 L84.3,399.8 L85.7,400.0 L87.0,400.2 L88.3,400.4 L89.6,400.6 L90.9,400.8 L92.2,401.0 L93.6,401.2 L94.9,401.4 L96.2,401.6 L97.5,401.8 L98.8,402.0 L100.2,402.1 L101.5,402.3 L102.8,402.4 L104.1,402.6 L105.4,402.7 L106.8,402.8 L108.1,403.0 L109.4,403.1 L110.8,403.2 L112.1,403.3 L113.4,403.4 L114.7,403.5 L116.1,403.6 L117.4,403.7 L118.7,403.8 L120.1,403.9 L121.4,404.0 L122.7,404.1 L124.1,404.1 L125.4,404.1 L126.7,404.1 L128.0,404.1 L129.4,404.1 L130.7,404.1 L132.1,404.1 L133.4,404.1 L134.7,404.1 L136.0,404.1 L137.4,403.9 L138.7,403.7 L140.0,403.4 L141.3,403.2 L142.6,402.9 L143.9,402.7 L145.3,402.6 L146.6,402.5 L147.9,402.4 L149.2,402.4 L150.6,402.3 L151.9,402.2 L153.2,402.2 L154.6,402.1 L155.9,402.0 L157.2,402.0 L158.6,402.0 L159.9,401.9 L161.2,401.9 L162.6,401.9 L163.9,401.9 L165.2,401.9 L166.6,402.0 L167.9,402.0 L169.2,402.1 L170.5,402.2 L171.9,402.3 L173.2,402.4 L174.5,402.5 L175.9,402.5 L177.2,402.5 L178.5,402.5 L179.9,402.6 L181.2,402.6 L182.5,402.6 L183.9,402.6 L185.2,402.6 L186.5,402.6 L187.9,402.6 L189.2,402.6 L190.5,402.5 L191.8,402.4 L193.2,402.2 L194.5,402.1 L195.8,401.9 L197.1,401.8 L198.5,401.6 L199.8,401.5 L201.1,401.3 L202.5,401.1 L203.8,400.8 L205.1,400.6 L206.4,400.3 L207.6,400.0 L208.9,399.6 L210.1,399.1 L211.4,398.6 L212.6,398.1 L213.8,397.5 L215.0,396.9 L216.2,396.3 L217.4,395.7 L218.6,395.1 L219.8,394.4 L220.9,393.8 L222.1,393.1 L223.2,392.4 L224.3,391.7 L225.5,390.9 L226.6,390.1 L227.6,389.3 L228.7,388.5 L229.7,387.7 L230.7,386.9 L231.7,386.0 L232.7,385.1 L233.7,384.2 L234.7,383.3 L235.6,382.3 L236.6,381.4 L237.5,380.4 L238.4,379.4 L239.3,378.4 L240.1,377.4 L241.0,376.4 L241.8,375.4 L242.7,374.3 L243.5,373.3 L244.2,372.2 L245.0,371.1 L245.8,370.0 L246.5,368.9 L247.3,367.8 L248.0,366.7 L248.8,365.6 L249.5,364.5 L250.3,363.4 L251.0,362.3 L251.8,361.2 L252.6,360.1 L253.4,359.0 L254.2,358.0 L255.0,356.9 L255.7,355.8 L256.5,354.7 L257.3,353.7 L258.1,352.6 L258.9,351.5 L259.7,350.5 L260.5,349.4 L261.3,348.4 L262.2,347.3 L263.0,346.3 L263.8,345.2 L264.6,344.2 L265.5,343.1 L266.3,342.1 L267.1,341.0 L268.0,340.0 L268.8,338.9 L269.6,337.8 L270.4,336.7 L271.3,335.8 L272.2,334.8 L273.2,334.0 L274.2,333.1 L275.3,332.3 L276.4,331.5 L277.6,330.8 L278.8,330.2 L280.0,329.7 L281.2,329.3 L282.4,328.9 L283.7,328.5 L285.0,328.2 L286.4,327.9 L287.7,327.7 L289.0,327.4 L290.3,327.3 L291.7,327.2 L293.0,327.1 L294.3,327.0 L295.7,327.0 L297.0,326.9 L298.3,326.9 L299.7,326.8 L301.0,326.7 L302.3,326.7 L303.7,326.6 L305.0,326.5 L306.3,326.4 L307.7,326.3 L309.0,326.1 L310.3,326.0 L311.6,325.8 L312.9,325.6 L314.2,325.4 L315.6,325.1 L316.9,324.8 L318.2,324.4 L319.5,324.0 L320.7,323.6 L321.9,323.2 L323.1,322.7 L324.3,322.1 L325.5,321.4 L326.7,320.7 L327.8,319.9 L328.8,319.1 L329.8,318.2 L330.8,317.4 L331.7,316.4 L332.6,315.4 L333.5,314.4 L334.3,313.4 L335.1,312.3 L336.0,311.2 L336.8,310.1 L337.6,309.0 L338.4,308.0 L339.1,306.9 L339.9,305.8 L340.7,304.7 L341.5,303.6 L342.2,302.5 L343.0,301.4 L343.7,300.3 L344.4,299.2 L345.1,298.1 L345.9,297.0 L346.6,295.8 L347.3,294.7 L348.0,293.6 L348.7,292.4 L349.4,291.3 L350.1,290.2 L350.7,289.0 L351.4,287.9 L352.1,286.7 L352.8,285.6 L353.4,284.4 L354.1,283.3 L354.7,282.1 L355.4,280.9 L356.1,279.8 L356.7,278.6 L357.4,277.5 L358.1,276.3 L358.7,275.2 L359.4,274.0 L360.0,272.8 L360.7,271.7 L361.3,270.5 L362.0,269.4 L362.7,268.2 L363.3,267.1 L364.0,265.9 L364.7,264.8 L365.4,263.6 L366.1,262.5 L366.9,261.4 L367.6,260.3 L368.4,259.2 L369.1,258.1 L369.8,256.9 L370.5,255.8 L371.1,254.6 L371.7,253.4 L372.2,252.2 L372.8,251.0 L373.4,249.8 L373.9,248.6 L374.6,247.4 L375.2,246.3 L375.8,245.1 L376.5,243.9 L377.1,242.8 L377.8,241.6 L378.5,240.4 L379.1,239.3 L379.8,238.1 L380.5,237.0 L381.2,235.9 L381.9,234.7 L382.6,233.6 L383.3,232.5 L384.0,231.3 L384.7,230.2 L385.5,229.1 L386.2,228.0 L386.9,226.9 L387.7,225.8 L388.4,224.7 L389.2,223.6 L390.0,222.5 L390.7,221.4 L391.5,220.3 L392.3,219.2 L393.1,218.2 L393.9,217.1 L394.6,216.0 L395.4,214.9 L396.2,213.8 L397.0,212.8 L397.8,211.7 L398.6,210.6 L399.4,209.6 L400.2,208.5 L401.0,207.4 L401.8,206.4 L402.6,205.3 L403.4,204.2 L404.2,203.2 L405.0,202.1 L405.8,201.0 L406.6,200.0 L407.4,198.9 L408.2,197.8 L409.0,196.8 L409.8,195.7 L410.6,194.7 L411.5,193.6 L412.3,192.6 L413.2,191.6 L414.0,190.6 L414.9,189.6 L415.8,188.7 L416.8,187.7 L417.7,186.8 L418.7,185.9 L419.7,184.9 L420.6,184.0 L421.6,183.1 L422.6,182.2 L423.6,181.3 L424.6,180.4 L425.6,179.5 L426.5,178.6 L427.5,177.7 L428.5,176.8 L429.5,175.9 L430.4,175.0 L431.4,174.1 L432.4,173.2 L433.4,172.3 L434.4,171.4 L435.4,170.4 L436.3,169.5 L437.3,168.6 L438.2,167.7 L439.2,166.7 L440.1,165.8 L441.0,164.8 L441.9,163.8 L442.8,162.8 L443.6,161.8 L444.5,160.8 L445.3,159.8 L446.2,158.7 L447.0,157.7 L447.8,156.6 L448.6,155.6 L449.4,154.5 L450.2,153.4 L451.0,152.4 L451.8,151.3 L452.6,150.2 L453.3,149.1 L454.1,148.0 L454.8,146.9 L455.6,145.8 L456.3,144.7 L457.0,143.6 L457.7,142.4 L458.5,141.3 L459.2,140.2 L459.9,139.1 L460.6,137.9 L461.3,136.8 L462.0,135.7 L462.8,134.6 L463.5,133.4 L464.2,132.3 L464.9,131.2 L465.6,130.0 L466.2,128.9 L466.9,127.7 L467.6,126.6 L468.2,125.4 L468.9,124.3 L469.5,123.1 L470.2,121.9 L470.8,120.7 L471.4,119.6 L472.0,118.4 L472.6,117.2 L473.2,116.0 L473.8,114.8 L474.4,113.6 L475.0,112.4 L475.5,111.2 L476.1,110.0 L476.7,108.8 L477.3,107.6 L477.9,106.4 L478.5,105.2 L479.1,104.1 L479.7,102.9 L480.3,101.7 L480.9,100.5 L481.5,99.3 L482.0,98.1 L482.6,96.9 L483.2,95.7 L483.8,94.5 L484.4,93.3 L485.0,92.1 L485.6,90.9 L486.2,89.7 L486.7,88.5 L487.3,87.3 L487.9,86.1 L488.5,84.9 L489.0,83.7 L489.6,82.5 L490.1,81.3 L490.7,80.1 L491.2,78.8 L491.7,77.6 L492.2,76.4 L492.7,75.1 L493.2,73.9 L493.7,72.7 L494.2,71.4 L494.7,70.2 L495.2,68.9 L495.7,67.7 L496.2,66.5 L496.6,65.2 L497.1,64.0 L497.6,62.7 L498.1,61.5 L498.5,60.2 L499.0,59.0 L499.5,57.7 L500.0,56.5 L500.5,55.3 L501.0,54.0 L501.5,52.8 L502.1,51.6 L502.7,50.4 L503.3,49.3 L503.9,48.1 L504.4,46.8 L505.0,45.6 L505.5,44.4 L505.9,43.1 L506.4,41.9 L506.9,40.7 L507.4,39.4 L507.9,38.2 L508.5,37.0 L509.0,35.7 L509.5,34.5 L509.9,33.2 L510.1,32.0 L510.4,30.6 L510.6,29.3 L510.9,28.0 L511.1,26.7 L511.3,25.4 L511.5,24.1 L511.8,22.8 L512.1,21.5 L512.4,20.2 L512.7,18.9 L513.0,17.6 L513.2,16.2 L513.4,14.9 L513.6,13.6 L513.8,12.3 L513.9,11.0 L514.1,9.6 L514.3,8.3 L514.4,7.0 L514.5,5.7 L514.6,4.3 L514.6,3.0" stroke="#000" stroke-width="2" stroke-dasharray="2.1 2.9" stroke-dashoffset="0"/>
<path d="M68.5,348.5 L69.7,348.8 L71.0,349.0 L72.2,349.3 L73.4,349.6 L74.6,349.8 L75.9,350.1 L77.1,350.3 L78.3,350.5 L79.6,350.7 L80.8,350.9 L82.1,351.1 L83.3,351.3 L84.5,351.5 L85.8,351.7 L87.0,351.9 L88.3,352.0 L89.5,352.2 L90.8,352.4 L92.0,352.6 L93.3,352.7 L94.5,352.9 L95.7,353.1 L97.0,353.3 L98.2,353.4 L99.5,353.6 L100.7,353.8 L102.0,353.9 L103.2,354.1 L104.5,354.2 L105.7,354.4 L106.9,354.5 L108.2,354.6 L109.4,354.7 L110.7,354.9 L112.0,355.0 L113.2,355.1 L114.5,355.2 L115.7,355.3 L117.0,355.4 L118.2,355.5 L119.5,355.6 L120.7,355.7 L122.0,355.9 L123.2,356.0 L124.5,356.2 L125.7,356.3 L127.0,356.4 L128.2,356.5 L129.5,356.6 L130.7,356.7 L132.0,356.7 L133.2,356.7 L134.5,356.7 L135.7,356.6 L137.0,356.6 L138.2,356.5 L139.5,356.5 L140.8,356.4 L142.0,356.3 L143.3,356.3 L144.5,356.2 L145.8,356.2 L147.0,356.1 L148.3,356.0 L149.5,356.0 L150.8,355.9 L152.1,355.8 L153.3,355.7 L154.6,355.6 L155.8,355.6 L157.1,355.5 L158.3,355.4 L159.6,355.4 L160.8,355.3 L162.1,355.3 L163.3,355.3 L164.6,355.3 L165.8,355.3 L167.1,355.4 L168.4,355.4 L169.6,355.5 L170.9,355.6 L172.1,355.7 L173.4,355.8 L174.6,355.9 L175.9,356.0 L177.1,356.1 L178.4,356.1 L179.7,356.2 L180.9,356.2 L182.2,356.3 L183.4,356.4 L184.7,356.4 L185.9,356.5 L187.2,356.7 L188.4,356.9 L189.6,357.4 L190.8,357.5 L192.0,357.4 L193.3,357.3 L194.6,357.2 L195.8,357.1 L197.1,356.9 L198.3,356.8 L199.6,356.6 L200.8,356.5 L202.1,356.4 L203.3,356.2 L204.6,356.0 L205.8,355.8 L207.0,355.6 L208.2,355.3 L209.5,355.0 L210.7,354.6 L211.9,354.2 L213.1,353.9 L214.3,353.5 L215.4,353.0 L216.6,352.6 L217.8,352.1 L218.9,351.6 L220.1,351.1 L221.2,350.5 L222.3,349.9 L223.4,349.3 L224.5,348.7 L225.6,348.0 L226.7,347.4 L227.7,346.7 L228.7,346.0 L229.7,345.2 L230.7,344.5 L231.7,343.7 L232.7,342.9 L233.7,342.1 L234.6,341.2 L235.5,340.4 L236.5,339.5 L237.4,338.6 L238.2,337.7 L239.1,336.8 L239.9,335.9 L240.7,335.0 L241.5,334.0 L242.3,333.0 L243.0,332.0 L243.8,331.0 L244.5,329.9 L245.3,328.9 L246.0,327.9 L246.7,326.9 L247.5,325.9 L248.2,324.8 L248.9,323.8 L249.7,322.8 L250.4,321.8 L251.1,320.7 L251.8,319.7 L252.5,318.7 L253.3,317.6 L254.0,316.6 L254.7,315.6 L255.5,314.6 L256.2,313.6 L257.0,312.6 L257.8,311.6 L258.6,310.6 L259.4,309.6 L260.1,308.7 L260.9,307.7 L261.7,306.7 L262.5,305.8 L263.3,304.8 L264.1,303.8 L264.9,302.8 L265.7,301.8 L266.4,300.8 L267.1,299.7 L267.9,298.7 L268.6,297.6 L269.4,296.6 L270.2,295.7 L271.0,294.8 L272.0,294.0 L273.0,293.3 L274.1,292.7 L275.2,292.1 L276.3,291.4 L277.3,290.7 L278.4,289.9 L279.4,289.2 L280.5,288.6 L281.7,288.3 L282.8,288.0 L284.1,287.7 L285.3,287.5 L286.6,287.3 L287.8,287.2 L289.1,287.0 L290.4,286.9 L291.6,286.9 L292.9,286.8 L294.1,286.8 L295.4,286.8 L296.7,286.7 L297.9,286.7 L299.2,286.7 L300.4,286.7 L301.7,286.8 L302.9,286.9 L304.2,287.0 L305.4,287.1 L306.7,287.2 L307.9,287.2 L309.2,287.1 L310.4,287.0 L311.7,286.7 L312.9,286.4 L314.1,286.1 L315.3,285.7 L316.6,285.4 L317.8,285.1 L319.0,284.8 L320.2,284.4 L321.4,284.0 L322.6,283.6 L323.8,283.2 L324.9,282.7 L326.1,282.2 L327.1,281.6 L328.2,281.0 L329.3,280.3 L330.3,279.5 L331.3,278.7 L332.3,277.9 L333.2,277.1 L334.2,276.2 L335.1,275.4 L336.0,274.5 L336.9,273.6 L337.7,272.7 L338.6,271.8 L339.4,270.8 L340.2,269.8 L341.0,268.8 L341.7,267.8 L342.5,266.9 L343.3,265.9 L344.0,264.8 L344.8,263.8 L345.5,262.8 L346.2,261.8 L346.9,260.7 L347.6,259.7 L348.3,258.6 L349.0,257.6 L349.6,256.5 L350.3,255.4 L350.9,254.4 L351.6,253.3 L352.2,252.2 L352.8,251.1 L353.5,250.0 L354.1,248.9 L354.7,247.8 L355.3,246.7 L355.9,245.6 L356.5,244.5 L357.1,243.4 L357.7,242.3 L358.3,241.2 L358.9,240.1 L359.5,239.0 L360.1,237.9 L360.7,236.8 L361.3,235.7 L361.9,234.6 L362.5,233.5 L363.1,232.4 L363.7,231.3 L364.3,230.2 L364.9,229.1 L365.5,228.0 L366.2,226.9 L366.8,225.8 L367.4,224.7 L368.0,223.6 L368.6,222.5 L369.2,221.4 L369.8,220.3 L370.4,219.2 L371.1,218.1 L371.7,217.0 L372.3,215.9 L372.9,214.9 L373.6,213.8 L374.2,212.7 L374.8,211.6 L375.5,210.5 L376.1,209.5 L376.8,208.4 L377.4,207.3 L378.1,206.2 L378.8,205.2 L379.4,204.1 L380.1,203.0 L380.8,202.0 L381.4,200.9 L382.1,199.9 L382.8,198.8 L383.4,197.7 L384.1,196.7 L384.8,195.6 L385.5,194.6 L386.1,193.5 L386.8,192.4 L387.5,191.4 L388.2,190.3 L388.9,189.3 L389.6,188.2 L390.3,187.2 L391.0,186.1 L391.7,185.1 L392.4,184.1 L393.1,183.1 L393.9,182.0 L394.6,181.0 L395.4,180.0 L396.1,179.0 L396.9,178.0 L397.7,177.1 L398.5,176.1 L399.3,175.1 L400.1,174.2 L400.9,173.2 L401.7,172.3 L402.6,171.3 L403.4,170.4 L404.3,169.5 L405.1,168.5 L406.0,167.6 L406.8,166.7 L407.7,165.8 L408.6,164.9 L409.4,164.0 L410.3,163.1 L411.2,162.2 L412.1,161.3 L413.0,160.4 L413.9,159.5 L414.8,158.7 L415.7,157.8 L416.7,157.0 L417.6,156.2 L418.6,155.3 L419.5,154.5 L420.5,153.7 L421.4,152.9 L422.3,152.0 L423.3,151.2 L424.1,150.3 L425.0,149.4 L425.8,148.4 L426.7,147.5 L427.5,146.5 L428.3,145.6 L429.1,144.6 L429.8,143.6 L430.6,142.6 L431.3,141.5 L432.0,140.4 L432.7,139.3 L433.4,138.3 L434.2,137.4 L435.1,136.6 L436.2,136.1 L437.4,135.5 L438.6,135.0 L439.7,134.5 L440.7,133.8 L441.7,133.0 L442.6,132.2 L443.5,131.3 L444.4,130.4 L445.3,129.5 L446.1,128.5 L447.0,127.6 L447.8,126.6 L448.6,125.6 L449.4,124.7 L450.2,123.7 L451.0,122.7 L451.7,121.7 L452.5,120.7 L453.2,119.7 L454.0,118.7 L454.7,117.7 L455.4,116.6 L456.1,115.6 L456.8,114.5 L457.5,113.5 L458.2,112.4 L458.9,111.3 L459.5,110.3 L460.2,109.2 L460.8,108.1 L461.5,107.1 L462.1,106.0 L462.7,104.9 L463.3,103.8 L463.9,102.7 L464.5,101.6 L465.1,100.5 L465.7,99.3 L466.3,98.2 L466.9,97.1 L467.4,96.0 L468.0,94.9 L468.6,93.8 L469.2,92.7 L469.8,91.6 L470.4,90.5 L471.0,89.4 L471.6,88.2 L472.2,87.1 L472.8,86.0 L473.4,84.9 L473.9,83.8 L474.5,82.7 L475.1,81.6 L475.7,80.5 L476.3,79.4 L476.9,78.3 L477.5,77.2 L478.0,76.0 L478.6,74.9 L479.2,73.8 L479.8,72.7 L480.4,71.6 L481.0,70.5 L481.5,69.4 L482.1,68.3 L482.7,67.1 L483.3,66.0 L483.9,64.9 L484.5,63.8 L485.0,62.7 L485.6,61.6 L486.2,60.4 L486.7,59.3 L487.3,58.2 L487.8,57.1 L488.4,55.9 L488.9,54.8 L489.4,53.7 L490.0,52.5 L490.5,51.4 L491.0,50.2 L491.6,49.1 L492.1,48.0 L492.6,46.8 L493.1,45.7 L493.7,44.5 L494.2,43.4 L494.7,42.3 L495.2,41.1 L495.8,40.0 L496.3,38.8 L496.8,37.7 L497.3,36.6 L497.8,35.4 L498.4,34.3 L498.9,33.1 L499.4,32.0 L499.9,30.8 L500.4,29.7 L500.9,28.5 L501.4,27.4 L501.9,26.2 L502.4,25.0 L502.9,23.9 L503.3,22.7 L503.8,21.6 L504.3,20.4 L504.8,19.3 L505.3,18.1 L505.8,16.9 L506.3,15.8 L506.7,14.6 L507.2,13.5 L507.7,12.3 L508.2,11.1 L508.7,10.0 L509.1,8.8 L509.6,7.7 L510.1,6.5 L510.6,5.3 L511.0,4.2 L511.5,3.0" stroke="#ff8000" stroke-width="2" stroke-dasharray="10.5 2.8 2 2.8" stroke-dashoffset="14.31"/>
<path d="M68.5,347.0 L529.5,347.0" stroke="#0000ff" stroke-width="2" stroke-dasharray="11 5.2" stroke-dashoffset="15.5"/>
<path d="M68.5,347.5 L69.7,347.7 L71.0,348.0 L72.2,348.2 L73.4,348.5 L74.7,348.7 L75.9,348.9 L77.1,349.1 L78.4,349.3 L79.6,349.5 L80.8,349.7 L82.1,349.9 L83.3,350.1 L84.5,350.3 L85.8,350.4 L87.0,350.6 L88.3,350.8 L89.5,350.9 L90.8,351.1 L92.0,351.3 L93.2,351.4 L94.5,351.6 L95.7,351.7 L97.0,351.9 L98.2,352.1 L99.4,352.2 L100.7,352.4 L101.9,352.5 L103.2,352.6 L104.4,352.7 L105.7,352.9 L106.9,353.0 L108.2,353.1 L109.4,353.2 L110.7,353.3 L111.9,353.4 L113.2,353.5 L114.4,353.5 L115.7,353.6 L116.9,353.7 L118.2,353.8 L119.4,353.8 L120.7,353.9 L121.9,353.9 L123.2,354.0 L124.4,354.0 L125.7,354.1 L127.0,354.1 L128.2,354.1 L129.5,354.2 L130.7,354.2 L131.9,354.2 L133.2,354.1 L134.4,353.8 L135.6,353.4 L136.8,353.1 L138.1,353.0 L139.3,352.9 L140.6,352.8 L141.8,352.8 L143.1,352.7 L144.3,352.7 L145.6,352.6 L146.8,352.6 L148.1,352.6 L149.3,352.5 L150.6,352.5 L151.8,352.4 L153.1,352.4 L154.3,352.3 L155.6,352.3 L156.8,352.2 L158.1,352.2 L159.4,352.2 L160.6,352.1 L161.9,352.1 L163.1,352.1 L164.4,352.1 L165.6,352.1 L166.9,352.1 L168.1,352.2 L169.4,352.2 L170.6,352.2 L171.9,352.3 L173.1,352.3 L174.4,352.3 L175.6,352.4 L176.9,352.4 L178.1,352.5 L179.4,352.5 L180.6,352.6 L181.9,352.6 L183.1,352.7 L184.4,352.8 L185.6,352.8 L186.9,352.9 L188.1,353.1 L189.4,353.3 L190.6,353.4 L191.9,353.3 L193.1,353.2 L194.3,353.1 L195.6,352.9 L196.8,352.7 L198.1,352.5 L199.3,352.3 L200.6,352.1 L201.8,351.9 L203.0,351.7 L204.3,351.5 L205.5,351.3 L206.7,351.0 L207.9,350.8 L209.1,350.4 L210.4,350.1 L211.6,349.7 L212.8,349.4 L213.9,349.0 L215.1,348.6 L216.3,348.1 L217.5,347.6 L218.6,347.1 L219.7,346.6 L220.8,346.0 L221.8,345.3 L222.9,344.6 L223.9,343.8 L224.9,343.1 L225.9,342.3 L226.9,341.5 L227.9,340.8 L228.9,340.0 L229.9,339.2 L230.9,338.5 L231.9,337.7 L232.9,336.9 L233.8,336.1 L234.8,335.3 L235.7,334.5 L236.7,333.6 L237.5,332.8 L238.4,331.9 L239.2,330.9 L240.0,330.0 L240.8,329.0 L241.6,328.0 L242.3,327.0 L243.1,326.0 L243.8,325.0 L244.6,324.0 L245.3,323.0 L246.1,322.0 L246.9,321.0 L247.7,320.0 L248.5,319.1 L249.3,318.1 L250.1,317.2 L250.9,316.2 L251.7,315.3 L252.5,314.3 L253.4,313.3 L254.2,312.4 L255.0,311.4 L255.8,310.5 L256.6,309.5 L257.4,308.5 L258.2,307.6 L259.0,306.6 L259.8,305.6 L260.6,304.7 L261.4,303.7 L262.1,302.7 L262.9,301.6 L263.6,300.6 L264.3,299.5 L265.0,298.4 L265.8,297.3 L266.5,296.3 L267.3,295.3 L268.1,294.4 L269.0,293.6 L269.9,292.9 L271.0,292.3 L272.1,291.9 L273.4,291.5 L274.5,291.0 L275.6,290.4 L276.7,289.6 L277.7,288.9 L278.8,288.1 L279.8,287.4 L280.9,287.0 L282.1,286.7 L283.3,286.4 L284.5,286.2 L285.8,286.0 L287.0,285.9 L288.3,285.7 L289.6,285.6 L290.8,285.4 L292.1,285.3 L293.3,285.2 L294.6,285.1 L295.8,285.0 L297.1,285.0 L298.3,284.9 L299.6,284.8 L300.8,284.8 L302.1,284.7 L303.3,284.7 L304.6,284.7 L305.8,284.6 L307.1,284.6 L308.3,284.5 L309.6,284.5 L310.8,284.3 L312.0,284.1 L313.3,283.8 L314.5,283.5 L315.7,283.2 L316.9,282.9 L318.1,282.6 L319.4,282.3 L320.6,281.9 L321.8,281.5 L323.0,281.1 L324.1,280.6 L325.3,280.1 L326.4,279.6 L327.5,279.0 L328.5,278.4 L329.6,277.7 L330.6,276.9 L331.6,276.2 L332.6,275.4 L333.6,274.5 L334.5,273.7 L335.4,272.9 L336.3,272.1 L337.2,271.2 L338.1,270.3 L338.9,269.3 L339.8,268.4 L340.6,267.4 L341.4,266.4 L342.2,265.5 L343.0,264.5 L343.7,263.5 L344.4,262.5 L345.2,261.5 L345.9,260.4 L346.6,259.4 L347.3,258.3 L348.0,257.3 L348.6,256.2 L349.3,255.2 L350.0,254.1 L350.7,253.1 L351.4,252.0 L352.0,251.0 L352.7,249.9 L353.3,248.8 L354.0,247.8 L354.7,246.7 L355.3,245.6 L355.9,244.6 L356.6,243.5 L357.2,242.4 L357.8,241.3 L358.4,240.2 L359.1,239.1 L359.7,238.0 L360.3,237.0 L360.9,235.9 L361.6,234.8 L362.2,233.7 L362.9,232.6 L363.5,231.6 L364.2,230.5 L364.8,229.5 L365.5,228.4 L366.2,227.3 L366.9,226.3 L367.5,225.2 L368.2,224.2 L368.9,223.1 L369.6,222.1 L370.3,221.0 L371.0,220.0 L371.6,218.9 L372.3,217.9 L373.0,216.8 L373.7,215.8 L374.4,214.7 L375.1,213.7 L375.8,212.7 L376.5,211.6 L377.2,210.6 L377.9,209.5 L378.6,208.5 L379.3,207.5 L380.0,206.4 L380.7,205.4 L381.4,204.3 L382.1,203.3 L382.8,202.3 L383.5,201.2 L384.1,200.2 L384.8,199.1 L385.5,198.1 L386.2,197.0 L386.9,196.0 L387.6,194.9 L388.2,193.9 L388.9,192.8 L389.6,191.7 L390.3,190.7 L391.0,189.7 L391.7,188.7 L392.5,187.7 L393.2,186.7 L394.0,185.7 L394.9,184.8 L395.7,183.8 L396.5,182.9 L397.4,182.0 L398.2,181.0 L399.1,180.1 L399.9,179.2 L400.8,178.3 L401.7,177.4 L402.6,176.5 L403.5,175.7 L404.3,174.8 L405.2,173.9 L406.1,173.0 L406.9,172.1 L407.8,171.2 L408.7,170.2 L409.6,169.3 L410.4,168.4 L411.3,167.6 L412.2,166.7 L413.1,165.8 L414.0,164.9 L414.9,164.1 L415.8,163.3 L416.8,162.4 L417.7,161.6 L418.7,160.8 L419.6,160.0 L420.6,159.2 L421.5,158.3 L422.5,157.5 L423.4,156.7 L424.3,155.8 L425.2,154.9 L426.1,154.0 L427.0,153.2 L427.9,152.3 L428.7,151.4 L429.6,150.4 L430.3,149.5 L431.1,148.4 L431.7,147.3 L432.4,146.2 L433.1,145.1 L433.8,144.1 L434.7,143.3 L435.7,142.7 L436.8,142.2 L438.0,141.7 L439.2,141.1 L440.3,140.5 L441.2,139.8 L442.2,139.0 L443.1,138.1 L444.0,137.2 L444.9,136.3 L445.8,135.4 L446.6,134.4 L447.5,133.5 L448.3,132.5 L449.1,131.6 L449.9,130.6 L450.7,129.7 L451.4,128.7 L452.2,127.7 L452.9,126.7 L453.7,125.7 L454.4,124.7 L455.1,123.6 L455.9,122.6 L456.6,121.6 L457.3,120.6 L458.1,119.5 L458.8,118.5 L459.6,117.5 L460.3,116.5 L461.1,115.5 L461.9,114.5 L462.6,113.5 L463.4,112.5 L464.1,111.5 L464.9,110.5 L465.6,109.5 L466.3,108.5 L466.9,107.4 L467.6,106.4 L468.3,105.3 L468.9,104.2 L469.6,103.2 L470.2,102.1 L470.9,101.0 L471.5,99.9 L472.1,98.8 L472.8,97.8 L473.4,96.7 L474.0,95.6 L474.6,94.5 L475.2,93.4 L475.8,92.3 L476.4,91.2 L477.0,90.1 L477.6,89.0 L478.2,87.9 L478.7,86.8 L479.3,85.6 L479.9,84.5 L480.4,83.4 L481.0,82.3 L481.5,81.2 L482.1,80.0 L482.7,78.9 L483.2,77.8 L483.8,76.7 L484.3,75.5 L484.9,74.4 L485.4,73.3 L486.0,72.2 L486.6,71.1 L487.1,69.9 L487.7,68.8 L488.3,67.7 L488.8,66.6 L489.4,65.5 L490.0,64.4 L490.5,63.2 L491.1,62.1 L491.7,61.0 L492.3,59.9 L492.8,58.8 L493.4,57.7 L494.0,56.6 L494.6,55.5 L495.2,54.4 L495.8,53.3 L496.4,52.2 L497.0,51.1 L497.6,49.9 L498.1,48.8 L498.7,47.7 L499.3,46.6 L499.8,45.5 L500.4,44.3 L500.9,43.2 L501.5,42.1 L502.0,41.0 L502.5,39.8 L503.1,38.7 L503.6,37.6 L504.1,36.4 L504.6,35.3 L505.1,34.1 L505.6,33.0 L506.1,31.8 L506.6,30.7 L507.1,29.5 L507.6,28.4 L508.1,27.2 L508.6,26.1 L509.0,24.9 L509.4,23.7 L509.8,22.5 L510.2,21.3 L510.6,20.1 L510.9,18.9 L511.3,17.7 L511.6,16.5 L511.9,15.3 L512.2,14.1 L512.5,12.9 L512.8,11.6 L513.0,10.4 L513.2,9.2 L513.5,8.0 L513.7,6.7 L513.9,5.5 L514.0,4.2 L514.2,3.0" stroke="#0000ff" stroke-width="2"/>
</g>
<g font-family="Liberation Sans, sans-serif" fill="#000">
<text transform="translate(65.7,462.4) scale(0.915,1)" font-size="13.85" text-anchor="end">0.0</text>
<text transform="translate(65.7,372.2) scale(0.915,1)" font-size="13.85" text-anchor="end">0.1</text>
<text transform="translate(65.7,282.0) scale(0.915,1)" font-size="13.85" text-anchor="end">0.2</text>
<text transform="translate(65.7,191.8) scale(0.915,1)" font-size="13.85" text-anchor="end">0.3</text>
<text transform="translate(65.7,101.6) scale(0.915,1)" font-size="13.85" text-anchor="end">0.4</text>
<text transform="translate(65.7,11.4) scale(0.915,1)" font-size="13.85" text-anchor="end">0.5</text>
<text transform="translate(165.6,481) scale(0.915,1)" font-size="13.85" text-anchor="middle">0.05</text>
<text transform="translate(286.9,481) scale(0.915,1)" font-size="13.85" text-anchor="middle">0.10</text>
<text transform="translate(408.2,481) scale(0.915,1)" font-size="13.85" text-anchor="middle">0.15</text>
<text transform="translate(529.5,481) scale(0.915,1)" font-size="13.85" text-anchor="middle">0.20</text>
<text transform="translate(270.6,498.8) scale(0.96,1)" font-size="14" text-anchor="start">k</text>
<text transform="translate(281.4,498.3) scale(0.9,1)" font-size="12.5" text-anchor="start">(</text>
<text transform="translate(285.5,498.8) scale(0.975,1)" font-size="14" text-anchor="start">h/Mpc</text>
<text transform="translate(324.0,498.3) scale(0.9,1)" font-size="12.5" text-anchor="start">)</text>
</g>
<g font-family="Liberation Serif, serif" font-weight="bold" fill="#000">
<text transform="translate(95.9,36.8) scale(1.16,1)" font-size="13" text-anchor="start" font-style="italic">w</text>
<text transform="translate(108.5,36.8) scale(1.22,1)" font-size="13" text-anchor="start">=</text>
<text transform="translate(120.9,36.8) scale(1.3,1)" font-size="13" text-anchor="start">−</text>
<text transform="translate(131.5,36.8) scale(1.04,1)" font-size="13" text-anchor="start">0.9</text>
<text transform="translate(100.3,55.6) scale(1.0,1)" font-size="13" text-anchor="start" font-style="italic">z</text>
<text transform="translate(109.6,55.6) scale(1.22,1)" font-size="13" text-anchor="start">=</text>
<text transform="translate(122.5,55.6) scale(1.08,1)" font-size="13" text-anchor="start">0</text>
</g>
<g transform="translate(0,260.4) rotate(-90)" font-family="Liberation Sans, sans-serif" fill="#000">
<g font-style="italic">
<text transform="translate(0.9,14.0) scale(1.2,1)" font-size="14" text-anchor="start">P</text>
<text transform="translate(23.6,14.0) scale(1.2,1)" font-size="14" text-anchor="start">P</text>
<text transform="translate(12.6,37.4) scale(1.2,1)" font-size="14" text-anchor="start">P</text>
</g>
<rect x="13.4" y="10.0" width="6.9" height="1.0"/>
<g font-size="10">
<text x="33.8" y="8.4">lin</text>
<text x="32.4" y="17.9">sm</text>
<text x="22.0" y="31.3">lin</text>
<text x="21.0" y="41.0">sm</text>
</g>
<rect x="0" y="20.8" width="46.2" height="1.0"/>
</g>
</svg>
</body></html>
